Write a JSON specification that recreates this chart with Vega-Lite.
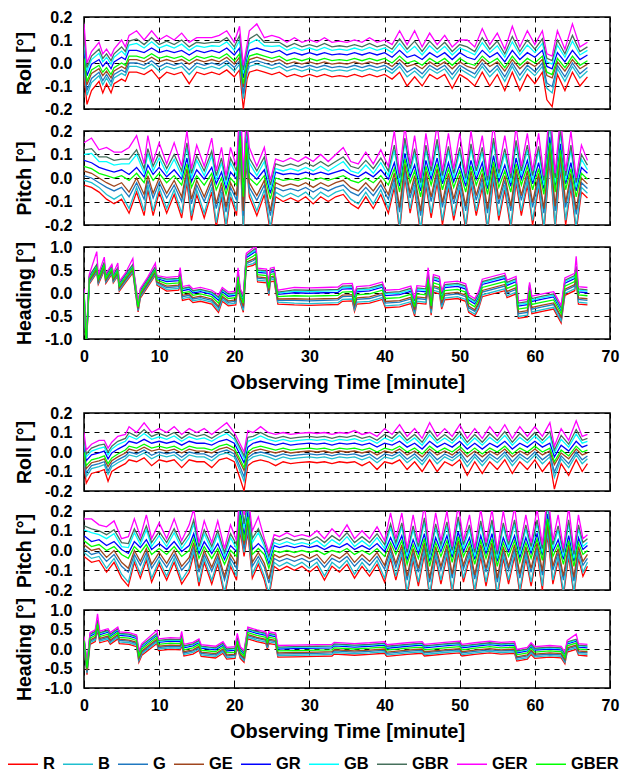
{
"$schema":"https://vega.github.io/schema/vega-lite/v6.json",
"padding":{"left":7,"top":8,"right":4,"bottom":0},
"config":{
"font":"Liberation Sans",
"view":{"stroke":"black","strokeWidth":1.5},
"axis":{"labelFont":"Liberation Sans","labelFontSize":16,"labelFontWeight":"bold","labelColor":"black","titleFont":"Liberation Sans","titleFontSize":19.5,"titleFontWeight":"bold","titleColor":"black","domain":false,"grid":true,"gridColor":"black","gridDash":[5,5],"gridWidth":1,"gridOpacity":1,"tickColor":"black","tickSize":-4,"tickWidth":1,"labelFlush":false,"labelOverlap":false},
"axisY":{"labelPadding":16,"titlePadding":10},
"axisX":{"labelPadding":13,"titlePadding":8,"titleFontSize":20},
"legend":{"labelFont":"Liberation Sans","labelFontSize":16.5,"labelFontWeight":"bold","labelColor":"black","symbolType":"stroke","symbolSize":900,"symbolStrokeWidth":1.5,"labelOffset":4,"columnPadding":5}
},
"datasets":{
"r1":[
{"t":0,"R":-0.05,"B":-0.025,"G":-0.01,"GE":0.005,"GR":0.045,"GB":0.088,"GBR":0.115,"GER":0.17,"GBER":0.02},
{"t":0.4,"R":-0.18,"B":-0.14,"G":-0.12,"GE":-0.095,"GR":-0.055,"GB":-0.035,"GBR":-0.02,"GER":0,"GBER":-0.08},
{"t":1,"R":-0.12,"B":-0.085,"G":-0.067,"GE":-0.045,"GR":-0.005,"GB":0.015,"GBR":0.03,"GER":0.05,"GBER":-0.03},
{"t":2,"R":-0.08,"B":-0.055,"G":-0.04,"GE":-0.025,"GR":0.015,"GB":0.042,"GBR":0.06,"GER":0.09,"GBER":-0.01},
{"t":2.5,"R":-0.13,"B":-0.095,"G":-0.077,"GE":-0.055,"GR":-0.015,"GB":0.005,"GBR":0.02,"GER":0.04,"GBER":-0.04},
{"t":3,"R":-0.09,"B":-0.065,"G":-0.05,"GE":-0.035,"GR":0.005,"GB":0.025,"GBR":0.04,"GER":0.06,"GBER":-0.02},
{"t":3.6,"R":-0.13,"B":-0.1,"G":-0.083,"GE":-0.065,"GR":-0.025,"GB":-0.005,"GBR":0.01,"GER":0.03,"GBER":-0.05},
{"t":4,"R":-0.09,"B":-0.065,"G":-0.05,"GE":-0.035,"GR":0.005,"GB":0.025,"GBR":0.04,"GER":0.06,"GBER":-0.02},
{"t":5,"R":-0.07,"B":-0.045,"G":-0.03,"GE":-0.015,"GR":0.025,"GB":0.052,"GBR":0.07,"GER":0.1,"GBER":0},
{"t":5.5,"R":-0.08,"B":-0.055,"G":-0.04,"GE":-0.025,"GR":0.015,"GB":0.035,"GBR":0.05,"GER":0.07,"GBER":-0.01},
{"t":6,"R":-0.04,"B":-0.015,"G":0,"GE":0.015,"GR":0.055,"GB":0.078,"GBR":0.095,"GER":0.12,"GBER":0.03},
{"t":7,"R":-0.04,"B":-0.015,"G":0,"GE":0.015,"GR":0.055,"GB":0.085,"GBR":0.105,"GER":0.14,"GBER":0.03},
{"t":8,"R":-0.05,"B":-0.025,"G":-0.01,"GE":0.005,"GR":0.045,"GB":0.065,"GBR":0.08,"GER":0.1,"GBER":0.02},
{"t":9,"R":-0.03,"B":-0.005,"G":0.01,"GE":0.025,"GR":0.065,"GB":0.092,"GBR":0.11,"GER":0.14,"GBER":0.04},
{"t":10,"R":-0.07,"B":-0.035,"G":-0.017,"GE":0.005,"GR":0.045,"GB":0.065,"GBR":0.08,"GER":0.1,"GBER":0.02},
{"t":11,"R":-0.04,"B":-0.015,"G":0,"GE":0.015,"GR":0.055,"GB":0.078,"GBR":0.095,"GER":0.12,"GBER":0.03},
{"t":12,"R":-0.05,"B":-0.025,"G":-0.01,"GE":0.005,"GR":0.045,"GB":0.065,"GBR":0.08,"GER":0.1,"GBER":0.02},
{"t":13,"R":-0.04,"B":-0.015,"G":0,"GE":0.015,"GR":0.055,"GB":0.082,"GBR":0.1,"GER":0.13,"GBER":0.03},
{"t":14,"R":-0.09,"B":-0.05,"G":-0.03,"GE":-0.005,"GR":0.035,"GB":0.055,"GBR":0.07,"GER":0.09,"GBER":0.01},
{"t":15,"R":-0.04,"B":-0.015,"G":0,"GE":0.015,"GR":0.055,"GB":0.075,"GBR":0.09,"GER":0.11,"GBER":0.03},
{"t":16,"R":-0.05,"B":-0.025,"G":-0.01,"GE":0.005,"GR":0.045,"GB":0.068,"GBR":0.085,"GER":0.11,"GBER":0.02},
{"t":17,"R":-0.04,"B":-0.015,"G":0,"GE":0.015,"GR":0.055,"GB":0.075,"GBR":0.09,"GER":0.11,"GBER":0.03},
{"t":18,"R":-0.05,"B":-0.025,"G":-0.01,"GE":0.005,"GR":0.045,"GB":0.072,"GBR":0.09,"GER":0.12,"GBER":0.02},
{"t":19,"R":-0.03,"B":-0.005,"G":0.01,"GE":0.025,"GR":0.065,"GB":0.092,"GBR":0.11,"GER":0.14,"GBER":0.04},
{"t":20,"R":-0.06,"B":-0.035,"G":-0.02,"GE":-0.005,"GR":0.035,"GB":0.055,"GBR":0.07,"GER":0.09,"GBER":0.01},
{"t":20.7,"R":-0.03,"B":-0.005,"G":0.01,"GE":0.025,"GR":0.065,"GB":0.098,"GBR":0.12,"GER":0.16,"GBER":0.04},
{"t":21.2,"R":-0.2,"B":-0.155,"G":-0.133,"GE":-0.105,"GR":-0.065,"GB":-0.045,"GBR":-0.03,"GER":-0.01,"GBER":-0.09},
{"t":21.7,"R":-0.07,"B":-0.045,"G":-0.03,"GE":-0.015,"GR":0.025,"GB":0.045,"GBR":0.06,"GER":0.08,"GBER":0},
{"t":22,"R":-0.04,"B":-0.015,"G":0,"GE":0.015,"GR":0.055,"GB":0.085,"GBR":0.105,"GER":0.14,"GBER":0.03},
{"t":23,"R":-0.03,"B":-0.005,"G":0.01,"GE":0.025,"GR":0.065,"GB":0.102,"GBR":0.125,"GER":0.17,"GBER":0.04},
{"t":24,"R":-0.04,"B":-0.015,"G":0,"GE":0.015,"GR":0.055,"GB":0.075,"GBR":0.09,"GER":0.11,"GBER":0.03},
{"t":25,"R":-0.05,"B":-0.025,"G":-0.01,"GE":0.005,"GR":0.045,"GB":0.072,"GBR":0.09,"GER":0.12,"GBER":0.02},
{"t":26,"R":-0.04,"B":-0.015,"G":0,"GE":0.015,"GR":0.055,"GB":0.075,"GBR":0.09,"GER":0.11,"GBER":0.03},
{"t":27,"R":-0.06,"B":-0.035,"G":-0.02,"GE":-0.005,"GR":0.035,"GB":0.055,"GBR":0.07,"GER":0.09,"GBER":0.01},
{"t":28,"R":-0.05,"B":-0.025,"G":-0.01,"GE":0.005,"GR":0.045,"GB":0.068,"GBR":0.085,"GER":0.11,"GBER":0.02},
{"t":29,"R":-0.06,"B":-0.035,"G":-0.02,"GE":-0.005,"GR":0.035,"GB":0.055,"GBR":0.07,"GER":0.09,"GBER":0.01},
{"t":30,"R":-0.05,"B":-0.025,"G":-0.01,"GE":0.005,"GR":0.045,"GB":0.065,"GBR":0.08,"GER":0.1,"GBER":0.02},
{"t":31,"R":-0.06,"B":-0.035,"G":-0.02,"GE":-0.005,"GR":0.035,"GB":0.055,"GBR":0.07,"GER":0.09,"GBER":0.01},
{"t":32,"R":-0.05,"B":-0.025,"G":-0.01,"GE":0.005,"GR":0.045,"GB":0.068,"GBR":0.085,"GER":0.11,"GBER":0.02},
{"t":33,"R":-0.06,"B":-0.035,"G":-0.02,"GE":-0.005,"GR":0.035,"GB":0.055,"GBR":0.07,"GER":0.09,"GBER":0.01},
{"t":34,"R":-0.055,"B":-0.03,"G":-0.015,"GE":0,"GR":0.04,"GB":0.06,"GBR":0.075,"GER":0.095,"GBER":0.015},
{"t":35,"R":-0.06,"B":-0.035,"G":-0.02,"GE":-0.005,"GR":0.035,"GB":0.055,"GBR":0.07,"GER":0.09,"GBER":0.01},
{"t":36,"R":-0.05,"B":-0.025,"G":-0.01,"GE":0.005,"GR":0.045,"GB":0.065,"GBR":0.08,"GER":0.1,"GBER":0.02},
{"t":37,"R":-0.06,"B":-0.035,"G":-0.02,"GE":-0.005,"GR":0.035,"GB":0.055,"GBR":0.07,"GER":0.09,"GBER":0.01},
{"t":38,"R":-0.05,"B":-0.025,"G":-0.01,"GE":0.005,"GR":0.045,"GB":0.068,"GBR":0.085,"GER":0.11,"GBER":0.02},
{"t":39,"R":-0.06,"B":-0.035,"G":-0.02,"GE":-0.005,"GR":0.035,"GB":0.055,"GBR":0.07,"GER":0.09,"GBER":0.01},
{"t":40,"R":-0.05,"B":-0.025,"G":-0.01,"GE":0.005,"GR":0.045,"GB":0.065,"GBR":0.08,"GER":0.1,"GBER":0.02},
{"t":41,"R":-0.07,"B":-0.045,"G":-0.03,"GE":-0.015,"GR":0.025,"GB":0.045,"GBR":0.06,"GER":0.08,"GBER":0},
{"t":42,"R":-0.04,"B":-0.015,"G":0,"GE":0.015,"GR":0.055,"GB":0.085,"GBR":0.105,"GER":0.14,"GBER":0.03},
{"t":43,"R":-0.1,"B":-0.06,"G":-0.04,"GE":-0.015,"GR":0.025,"GB":0.045,"GBR":0.06,"GER":0.08,"GBER":0},
{"t":44,"R":-0.06,"B":-0.035,"G":-0.02,"GE":-0.005,"GR":0.035,"GB":0.072,"GBR":0.095,"GER":0.14,"GBER":0.01},
{"t":45,"R":-0.1,"B":-0.065,"G":-0.047,"GE":-0.025,"GR":0.015,"GB":0.035,"GBR":0.05,"GER":0.07,"GBER":-0.01},
{"t":46,"R":-0.05,"B":-0.025,"G":-0.01,"GE":0.005,"GR":0.045,"GB":0.075,"GBR":0.095,"GER":0.13,"GBER":0.02},
{"t":47,"R":-0.07,"B":-0.045,"G":-0.03,"GE":-0.015,"GR":0.025,"GB":0.045,"GBR":0.06,"GER":0.08,"GBER":0},
{"t":48,"R":-0.05,"B":-0.025,"G":-0.01,"GE":0.005,"GR":0.045,"GB":0.072,"GBR":0.09,"GER":0.12,"GBER":0.02},
{"t":49,"R":-0.11,"B":-0.07,"G":-0.05,"GE":-0.025,"GR":0.015,"GB":0.035,"GBR":0.05,"GER":0.07,"GBER":-0.01},
{"t":50,"R":-0.05,"B":-0.025,"G":-0.01,"GE":0.005,"GR":0.045,"GB":0.065,"GBR":0.08,"GER":0.1,"GBER":0.02},
{"t":51,"R":-0.07,"B":-0.045,"G":-0.03,"GE":-0.015,"GR":0.025,"GB":0.052,"GBR":0.07,"GER":0.1,"GBER":0},
{"t":52,"R":-0.1,"B":-0.065,"G":-0.047,"GE":-0.025,"GR":0.015,"GB":0.035,"GBR":0.05,"GER":0.07,"GBER":-0.01},
{"t":53,"R":-0.04,"B":-0.015,"G":0,"GE":0.015,"GR":0.055,"GB":0.088,"GBR":0.11,"GER":0.15,"GBER":0.03},
{"t":54,"R":-0.1,"B":-0.06,"G":-0.04,"GE":-0.015,"GR":0.025,"GB":0.045,"GBR":0.06,"GER":0.08,"GBER":0},
{"t":55,"R":-0.05,"B":-0.025,"G":-0.01,"GE":0.005,"GR":0.045,"GB":0.075,"GBR":0.095,"GER":0.13,"GBER":0.02},
{"t":56,"R":-0.12,"B":-0.08,"G":-0.06,"GE":-0.035,"GR":0.005,"GB":0.025,"GBR":0.04,"GER":0.06,"GBER":-0.02},
{"t":57,"R":-0.04,"B":-0.015,"G":0,"GE":0.015,"GR":0.055,"GB":0.092,"GBR":0.115,"GER":0.16,"GBER":0.03},
{"t":58,"R":-0.12,"B":-0.075,"G":-0.053,"GE":-0.025,"GR":0.015,"GB":0.035,"GBR":0.05,"GER":0.07,"GBER":-0.01},
{"t":59,"R":-0.05,"B":-0.025,"G":-0.01,"GE":0.005,"GR":0.045,"GB":0.078,"GBR":0.1,"GER":0.14,"GBER":0.02},
{"t":60,"R":-0.09,"B":-0.055,"G":-0.037,"GE":-0.015,"GR":0.025,"GB":0.045,"GBR":0.06,"GER":0.08,"GBER":0},
{"t":61,"R":-0.04,"B":-0.015,"G":0,"GE":0.015,"GR":0.055,"GB":0.085,"GBR":0.105,"GER":0.14,"GBER":0.03},
{"t":61.6,"R":-0.16,"B":-0.11,"G":-0.087,"GE":-0.055,"GR":-0.015,"GB":0.005,"GBR":0.02,"GER":0.04,"GBER":-0.04},
{"t":62.3,"R":-0.19,"B":-0.13,"G":-0.103,"GE":-0.065,"GR":-0.025,"GB":-0.005,"GBR":0.01,"GER":0.03,"GBER":-0.05},
{"t":63,"R":-0.05,"B":-0.025,"G":-0.01,"GE":0.005,"GR":0.045,"GB":0.078,"GBR":0.1,"GER":0.14,"GBER":0.02},
{"t":64,"R":-0.12,"B":-0.08,"G":-0.06,"GE":-0.035,"GR":0.005,"GB":0.025,"GBR":0.04,"GER":0.06,"GBER":-0.02},
{"t":65,"R":-0.04,"B":-0.015,"G":0,"GE":0.015,"GR":0.055,"GB":0.095,"GBR":0.12,"GER":0.17,"GBER":0.03},
{"t":66,"R":-0.1,"B":-0.065,"G":-0.047,"GE":-0.025,"GR":0.015,"GB":0.035,"GBR":0.05,"GER":0.07,"GBER":-0.01},
{"t":67,"R":-0.06,"B":-0.035,"G":-0.02,"GE":-0.005,"GR":0.035,"GB":0.055,"GBR":0.07,"GER":0.09,"GBER":0.01}
],
"p1":[
{"t":0,"R":-0.03,"B":-0.01,"G":0.01,"GE":0.03,"GR":0.075,"GB":0.1,"GBR":0.12,"GER":0.15,"GBER":0.05},
{"t":1,"R":-0.04,"B":-0.02,"G":0,"GE":0.02,"GR":0.065,"GB":0.105,"GBR":0.125,"GER":0.17,"GBER":0.04},
{"t":2,"R":-0.06,"B":-0.04,"G":-0.02,"GE":0,"GR":0.045,"GB":0.07,"GBR":0.09,"GER":0.12,"GBER":0.02},
{"t":3,"R":-0.09,"B":-0.07,"G":-0.04,"GE":-0.02,"GR":0.035,"GB":0.07,"GBR":0.09,"GER":0.13,"GBER":0.01},
{"t":4,"R":-0.11,"B":-0.09,"G":-0.055,"GE":-0.035,"GR":0.025,"GB":0.055,"GBR":0.075,"GER":0.11,"GBER":0},
{"t":5,"R":-0.09,"B":-0.07,"G":-0.04,"GE":-0.02,"GR":0.035,"GB":0.06,"GBR":0.08,"GER":0.11,"GBER":0.01},
{"t":6,"R":-0.15,"B":-0.13,"G":-0.08,"GE":-0.06,"GR":0.015,"GB":0.06,"GBR":0.08,"GER":0.13,"GBER":-0.01},
{"t":7,"R":-0.06,"B":-0.04,"G":-0.02,"GE":0,"GR":0.045,"GB":0.1,"GBR":0.12,"GER":0.18,"GBER":0.02},
{"t":8,"R":-0.16,"B":-0.14,"G":-0.09,"GE":-0.07,"GR":0.005,"GB":0.02,"GBR":0.04,"GER":0.06,"GBER":-0.02},
{"t":8.5,"R":-0.05,"B":-0.03,"G":-0.01,"GE":0.01,"GR":0.055,"GB":0.105,"GBR":0.125,"GER":0.18,"GBER":0.03},
{"t":9.2,"R":-0.16,"B":-0.14,"G":-0.085,"GE":-0.065,"GR":0.015,"GB":0.03,"GBR":0.05,"GER":0.07,"GBER":-0.01},
{"t":10,"R":-0.06,"B":-0.04,"G":-0.02,"GE":0,"GR":0.045,"GB":0.085,"GBR":0.105,"GER":0.15,"GBER":0.02},
{"t":11,"R":-0.15,"B":-0.13,"G":-0.085,"GE":-0.065,"GR":0.005,"GB":0.02,"GBR":0.04,"GER":0.06,"GBER":-0.02},
{"t":12,"R":-0.07,"B":-0.05,"G":-0.03,"GE":-0.01,"GR":0.035,"GB":0.08,"GBR":0.1,"GER":0.15,"GBER":0.01},
{"t":13,"R":-0.17,"B":-0.15,"G":-0.1,"GE":-0.08,"GR":-0.005,"GB":0.01,"GBR":0.03,"GER":0.05,"GBER":-0.03},
{"t":13.7,"R":-0.02,"B":0,"G":0.02,"GE":0.04,"GR":0.085,"GB":0.13,"GBR":0.15,"GER":0.2,"GBER":0.06},
{"t":14.3,"R":-0.18,"B":-0.16,"G":-0.11,"GE":-0.09,"GR":-0.015,"GB":0,"GBR":0.02,"GER":0.04,"GBER":-0.04},
{"t":15,"R":-0.07,"B":-0.05,"G":-0.03,"GE":-0.01,"GR":0.035,"GB":0.075,"GBR":0.095,"GER":0.14,"GBER":0.01},
{"t":16,"R":-0.17,"B":-0.15,"G":-0.1,"GE":-0.08,"GR":-0.005,"GB":0.01,"GBR":0.03,"GER":0.05,"GBER":-0.03},
{"t":17,"R":-0.06,"B":-0.04,"G":-0.02,"GE":0,"GR":0.045,"GB":0.095,"GBR":0.115,"GER":0.17,"GBER":0.02},
{"t":17.6,"R":-0.21,"B":-0.19,"G":-0.13,"GE":-0.11,"GR":-0.025,"GB":-0.01,"GBR":0.01,"GER":0.03,"GBER":-0.05},
{"t":18.3,"R":-0.08,"B":-0.06,"G":-0.04,"GE":-0.02,"GR":0.025,"GB":0.065,"GBR":0.085,"GER":0.13,"GBER":0},
{"t":18.9,"R":-0.22,"B":-0.2,"G":-0.145,"GE":-0.125,"GR":-0.045,"GB":-0.03,"GBR":-0.01,"GER":0.01,"GBER":-0.07},
{"t":19.5,"R":-0.08,"B":-0.06,"G":-0.04,"GE":-0.02,"GR":0.025,"GB":0.065,"GBR":0.085,"GER":0.13,"GBER":0},
{"t":20.3,"R":-0.16,"B":-0.14,"G":-0.095,"GE":-0.075,"GR":-0.005,"GB":0.01,"GBR":0.03,"GER":0.05,"GBER":-0.03},
{"t":20.8,"R":0.1,"B":0.12,"G":0.14,"GE":0.16,"GR":0.205,"GB":0.27,"GBR":0.29,"GER":0.36,"GBER":0.18},
{"t":21.2,"R":-0.24,"B":-0.22,"G":-0.16,"GE":-0.14,"GR":-0.055,"GB":-0.04,"GBR":-0.02,"GER":0,"GBER":-0.08},
{"t":21.6,"R":0.07,"B":0.09,"G":0.11,"GE":0.13,"GR":0.175,"GB":0.215,"GBR":0.235,"GER":0.28,"GBER":0.15},
{"t":22,"R":-0.08,"B":-0.06,"G":-0.04,"GE":-0.02,"GR":0.025,"GB":0.065,"GBR":0.085,"GER":0.13,"GBER":0},
{"t":23,"R":-0.16,"B":-0.14,"G":-0.095,"GE":-0.075,"GR":-0.005,"GB":0.01,"GBR":0.03,"GER":0.05,"GBER":-0.03},
{"t":24,"R":-0.07,"B":-0.05,"G":-0.03,"GE":-0.01,"GR":0.035,"GB":0.07,"GBR":0.09,"GER":0.13,"GBER":0.01},
{"t":24.8,"R":-0.23,"B":-0.21,"G":-0.16,"GE":-0.14,"GR":-0.065,"GB":-0.05,"GBR":-0.03,"GER":-0.01,"GBER":-0.09},
{"t":25.5,"R":-0.08,"B":-0.06,"G":-0.04,"GE":-0.02,"GR":0.025,"GB":0.04,"GBR":0.06,"GER":0.08,"GBER":0},
{"t":26.5,"R":-0.1,"B":-0.08,"G":-0.055,"GE":-0.035,"GR":0.015,"GB":0.03,"GBR":0.05,"GER":0.07,"GBER":-0.01},
{"t":27.5,"R":-0.085,"B":-0.065,"G":-0.045,"GE":-0.025,"GR":0.02,"GB":0.04,"GBR":0.06,"GER":0.085,"GBER":-0.005},
{"t":28.5,"R":-0.1,"B":-0.08,"G":-0.055,"GE":-0.035,"GR":0.015,"GB":0.03,"GBR":0.05,"GER":0.07,"GBER":-0.01},
{"t":29.5,"R":-0.08,"B":-0.06,"G":-0.04,"GE":-0.02,"GR":0.025,"GB":0.045,"GBR":0.065,"GER":0.09,"GBER":0},
{"t":30.5,"R":-0.11,"B":-0.09,"G":-0.06,"GE":-0.04,"GR":0.015,"GB":0.03,"GBR":0.05,"GER":0.07,"GBER":-0.01},
{"t":31.5,"R":-0.08,"B":-0.06,"G":-0.04,"GE":-0.02,"GR":0.025,"GB":0.05,"GBR":0.07,"GER":0.1,"GBER":0},
{"t":32.5,"R":-0.1,"B":-0.08,"G":-0.055,"GE":-0.035,"GR":0.015,"GB":0.03,"GBR":0.05,"GER":0.07,"GBER":-0.01},
{"t":33.5,"R":-0.08,"B":-0.06,"G":-0.04,"GE":-0.02,"GR":0.025,"GB":0.05,"GBR":0.07,"GER":0.1,"GBER":0},
{"t":34.5,"R":-0.07,"B":-0.05,"G":-0.03,"GE":-0.01,"GR":0.035,"GB":0.07,"GBR":0.09,"GER":0.13,"GBER":0.01},
{"t":35.5,"R":-0.11,"B":-0.09,"G":-0.06,"GE":-0.04,"GR":0.015,"GB":0.03,"GBR":0.05,"GER":0.07,"GBER":-0.01},
{"t":36.5,"R":-0.13,"B":-0.11,"G":-0.075,"GE":-0.055,"GR":0.005,"GB":0.02,"GBR":0.04,"GER":0.06,"GBER":-0.02},
{"t":37.5,"R":-0.08,"B":-0.06,"G":-0.04,"GE":-0.02,"GR":0.025,"GB":0.055,"GBR":0.075,"GER":0.11,"GBER":0},
{"t":38.5,"R":-0.13,"B":-0.11,"G":-0.075,"GE":-0.055,"GR":0.005,"GB":0.02,"GBR":0.04,"GER":0.06,"GBER":-0.02},
{"t":39.5,"R":-0.07,"B":-0.05,"G":-0.03,"GE":-0.01,"GR":0.035,"GB":0.065,"GBR":0.085,"GER":0.12,"GBER":0.01},
{"t":40.5,"R":-0.15,"B":-0.13,"G":-0.09,"GE":-0.07,"GR":-0.005,"GB":0.01,"GBR":0.03,"GER":0.05,"GBER":-0.03},
{"t":41.3,"R":-0.04,"B":-0.02,"G":0,"GE":0.02,"GR":0.065,"GB":0.12,"GBR":0.14,"GER":0.2,"GBER":0.04},
{"t":42,"R":-0.23,"B":-0.21,"G":-0.145,"GE":-0.125,"GR":-0.035,"GB":-0.02,"GBR":0,"GER":0.02,"GBER":-0.06},
{"t":42.7,"R":0,"B":0.02,"G":0.04,"GE":0.06,"GR":0.105,"GB":0.15,"GBR":0.17,"GER":0.22,"GBER":0.08},
{"t":43.4,"R":-0.15,"B":-0.13,"G":-0.085,"GE":-0.065,"GR":0.005,"GB":0.02,"GBR":0.04,"GER":0.06,"GBER":-0.02},
{"t":44,"R":-0.05,"B":-0.03,"G":-0.01,"GE":0.01,"GR":0.055,"GB":0.105,"GBR":0.125,"GER":0.18,"GBER":0.03},
{"t":44.8,"R":-0.24,"B":-0.22,"G":-0.16,"GE":-0.14,"GR":-0.055,"GB":-0.04,"GBR":-0.02,"GER":0,"GBER":-0.08},
{"t":45.5,"R":-0.03,"B":-0.01,"G":0.01,"GE":0.03,"GR":0.075,"GB":0.12,"GBR":0.14,"GER":0.19,"GBER":0.05},
{"t":46.2,"R":-0.17,"B":-0.15,"G":-0.1,"GE":-0.08,"GR":-0.005,"GB":0.01,"GBR":0.03,"GER":0.05,"GBER":-0.03},
{"t":47,"R":-0.02,"B":0,"G":0.02,"GE":0.04,"GR":0.085,"GB":0.145,"GBR":0.165,"GER":0.23,"GBER":0.06},
{"t":47.7,"R":-0.2,"B":-0.18,"G":-0.125,"GE":-0.105,"GR":-0.025,"GB":-0.01,"GBR":0.01,"GER":0.03,"GBER":-0.05},
{"t":48.5,"R":-0.04,"B":-0.02,"G":0,"GE":0.02,"GR":0.065,"GB":0.115,"GBR":0.135,"GER":0.19,"GBER":0.04},
{"t":49.2,"R":-0.18,"B":-0.16,"G":-0.11,"GE":-0.09,"GR":-0.015,"GB":0,"GBR":0.02,"GER":0.04,"GBER":-0.04},
{"t":50,"R":-0.05,"B":-0.03,"G":-0.01,"GE":0.01,"GR":0.055,"GB":0.11,"GBR":0.13,"GER":0.19,"GBER":0.03},
{"t":50.8,"R":-0.22,"B":-0.2,"G":-0.14,"GE":-0.12,"GR":-0.035,"GB":-0.02,"GBR":0,"GER":0.02,"GBER":-0.06},
{"t":51.5,"R":-0.03,"B":-0.01,"G":0.01,"GE":0.03,"GR":0.075,"GB":0.125,"GBR":0.145,"GER":0.2,"GBER":0.05},
{"t":52.2,"R":-0.16,"B":-0.14,"G":-0.095,"GE":-0.075,"GR":-0.005,"GB":0.01,"GBR":0.03,"GER":0.05,"GBER":-0.03},
{"t":53,"R":-0.04,"B":-0.02,"G":0,"GE":0.02,"GR":0.065,"GB":0.11,"GBR":0.13,"GER":0.18,"GBER":0.04},
{"t":53.7,"R":-0.23,"B":-0.21,"G":-0.15,"GE":-0.13,"GR":-0.045,"GB":-0.03,"GBR":-0.01,"GER":0.01,"GBER":-0.07},
{"t":54.5,"R":-0.01,"B":0.01,"G":0.03,"GE":0.05,"GR":0.095,"GB":0.15,"GBR":0.17,"GER":0.23,"GBER":0.07},
{"t":55.2,"R":-0.18,"B":-0.16,"G":-0.11,"GE":-0.09,"GR":-0.015,"GB":0,"GBR":0.02,"GER":0.04,"GBER":-0.04},
{"t":56,"R":-0.05,"B":-0.03,"G":-0.01,"GE":0.01,"GR":0.055,"GB":0.105,"GBR":0.125,"GER":0.18,"GBER":0.03},
{"t":56.8,"R":-0.22,"B":-0.2,"G":-0.14,"GE":-0.12,"GR":-0.035,"GB":-0.02,"GBR":0,"GER":0.02,"GBER":-0.06},
{"t":57.5,"R":-0.02,"B":0,"G":0.02,"GE":0.04,"GR":0.085,"GB":0.14,"GBR":0.16,"GER":0.22,"GBER":0.06},
{"t":58.2,"R":-0.16,"B":-0.14,"G":-0.095,"GE":-0.075,"GR":-0.005,"GB":0.01,"GBR":0.03,"GER":0.05,"GBER":-0.03},
{"t":59,"R":-0.03,"B":-0.01,"G":0.01,"GE":0.03,"GR":0.075,"GB":0.12,"GBR":0.14,"GER":0.19,"GBER":0.05},
{"t":59.7,"R":-0.2,"B":-0.18,"G":-0.125,"GE":-0.105,"GR":-0.025,"GB":-0.01,"GBR":0.01,"GER":0.03,"GBER":-0.05},
{"t":60.5,"R":-0.04,"B":-0.02,"G":0,"GE":0.02,"GR":0.065,"GB":0.115,"GBR":0.135,"GER":0.19,"GBER":0.04},
{"t":61.2,"R":-0.23,"B":-0.21,"G":-0.15,"GE":-0.13,"GR":-0.045,"GB":-0.03,"GBR":-0.01,"GER":0.01,"GBER":-0.07},
{"t":62,"R":0.07,"B":0.09,"G":0.11,"GE":0.13,"GR":0.175,"GB":0.23,"GBR":0.25,"GER":0.31,"GBER":0.15},
{"t":62.7,"R":-0.22,"B":-0.2,"G":-0.14,"GE":-0.12,"GR":-0.035,"GB":-0.02,"GBR":0,"GER":0.02,"GBER":-0.06},
{"t":63.4,"R":0.04,"B":0.06,"G":0.08,"GE":0.1,"GR":0.145,"GB":0.19,"GBR":0.21,"GER":0.26,"GBER":0.12},
{"t":64.1,"R":-0.2,"B":-0.18,"G":-0.125,"GE":-0.105,"GR":-0.025,"GB":-0.01,"GBR":0.01,"GER":0.03,"GBER":-0.05},
{"t":64.8,"R":-0.04,"B":-0.02,"G":0,"GE":0.02,"GR":0.065,"GB":0.12,"GBR":0.14,"GER":0.2,"GBER":0.04},
{"t":65.5,"R":-0.23,"B":-0.21,"G":-0.155,"GE":-0.135,"GR":-0.055,"GB":-0.04,"GBR":-0.02,"GER":0,"GBER":-0.08},
{"t":66.2,"R":-0.06,"B":-0.04,"G":-0.02,"GE":0,"GR":0.045,"GB":0.08,"GBR":0.1,"GER":0.14,"GBER":0.02},
{"t":67,"R":-0.085,"B":-0.065,"G":-0.045,"GE":-0.025,"GR":0.02,"GB":0.035,"GBR":0.055,"GER":0.075,"GBER":-0.005}
],
"h1":[
{"t":0,"R":-0.11,"B":-0.085,"G":-0.055,"GE":-0.035,"GR":0.035,"GB":0.055,"GBR":0.07,"GER":0.1,"GBER":0},
{"t":0.3,"R":-1.26,"B":-1.235,"G":-1.205,"GE":-1.185,"GR":-1.115,"GB":-1.095,"GBR":-1.08,"GER":-1.05,"GBER":-1.15},
{"t":0.7,"R":0.19,"B":0.215,"G":0.245,"GE":0.265,"GR":0.335,"GB":0.355,"GBR":0.37,"GER":0.4,"GBER":0.3},
{"t":1.7,"R":0.44,"B":0.465,"G":0.495,"GE":0.515,"GR":0.585,"GB":0.605,"GBR":0.62,"GER":0.9,"GBER":0.55},
{"t":1.9,"R":0.19,"B":0.215,"G":0.245,"GE":0.265,"GR":0.335,"GB":0.355,"GBR":0.37,"GER":0.4,"GBER":0.3},
{"t":2.7,"R":0.49,"B":0.515,"G":0.545,"GE":0.565,"GR":0.635,"GB":0.655,"GBR":0.67,"GER":0.78,"GBER":0.6},
{"t":2.9,"R":0.21,"B":0.235,"G":0.265,"GE":0.285,"GR":0.355,"GB":0.375,"GBR":0.39,"GER":0.42,"GBER":0.32},
{"t":3.7,"R":0.41,"B":0.435,"G":0.465,"GE":0.485,"GR":0.555,"GB":0.575,"GBR":0.59,"GER":0.62,"GBER":0.52},
{"t":3.9,"R":0.22,"B":0.245,"G":0.275,"GE":0.295,"GR":0.365,"GB":0.385,"GBR":0.4,"GER":0.43,"GBER":0.33},
{"t":4.5,"R":0.37,"B":0.395,"G":0.425,"GE":0.445,"GR":0.515,"GB":0.535,"GBR":0.55,"GER":0.65,"GBER":0.48},
{"t":4.7,"R":0.04,"B":0.065,"G":0.095,"GE":0.115,"GR":0.185,"GB":0.205,"GBR":0.22,"GER":0.25,"GBER":0.15},
{"t":5.5,"R":0.22,"B":0.245,"G":0.275,"GE":0.295,"GR":0.365,"GB":0.385,"GBR":0.4,"GER":0.43,"GBER":0.33},
{"t":6.5,"R":0.44,"B":0.465,"G":0.495,"GE":0.515,"GR":0.585,"GB":0.605,"GBR":0.62,"GER":0.75,"GBER":0.55},
{"t":6.7,"R":0.19,"B":0.215,"G":0.245,"GE":0.265,"GR":0.335,"GB":0.355,"GBR":0.37,"GER":0.4,"GBER":0.3},
{"t":7.2,"R":-0.41,"B":-0.385,"G":-0.355,"GE":-0.335,"GR":-0.265,"GB":-0.245,"GBR":-0.23,"GER":-0.2,"GBER":-0.3},
{"t":7.5,"R":-0.11,"B":-0.085,"G":-0.055,"GE":-0.035,"GR":0.035,"GB":0.055,"GBR":0.07,"GER":0.1,"GBER":0},
{"t":8.5,"R":0.14,"B":0.165,"G":0.195,"GE":0.215,"GR":0.285,"GB":0.305,"GBR":0.32,"GER":0.35,"GBER":0.25},
{"t":9.5,"R":0.39,"B":0.415,"G":0.445,"GE":0.465,"GR":0.535,"GB":0.555,"GBR":0.57,"GER":0.65,"GBER":0.5},
{"t":9.7,"R":0.17,"B":0.195,"G":0.225,"GE":0.245,"GR":0.315,"GB":0.335,"GBR":0.35,"GER":0.38,"GBER":0.28},
{"t":11,"R":0.04,"B":0.08,"G":0.12,"GE":0.15,"GR":0.25,"GB":0.28,"GBR":0.3,"GER":0.34,"GBER":0.2},
{"t":12.6,"R":0.06,"B":0.1,"G":0.14,"GE":0.17,"GR":0.27,"GB":0.3,"GBR":0.32,"GER":0.36,"GBER":0.22},
{"t":12.8,"R":0.19,"B":0.23,"G":0.27,"GE":0.3,"GR":0.4,"GB":0.43,"GBR":0.45,"GER":0.55,"GBER":0.35},
{"t":13.1,"R":-0.16,"B":-0.12,"G":-0.08,"GE":-0.05,"GR":0.05,"GB":0.08,"GBR":0.1,"GER":0.14,"GBER":0},
{"t":14,"R":-0.13,"B":-0.09,"G":-0.05,"GE":-0.02,"GR":0.08,"GB":0.11,"GBR":0.13,"GER":0.17,"GBER":0.03},
{"t":14.5,"R":-0.21,"B":-0.17,"G":-0.13,"GE":-0.1,"GR":0,"GB":0.03,"GBR":0.05,"GER":0.09,"GBER":-0.05},
{"t":15.5,"R":-0.18,"B":-0.14,"G":-0.1,"GE":-0.07,"GR":0.03,"GB":0.06,"GBR":0.08,"GER":0.12,"GBER":-0.02},
{"t":17,"R":-0.24,"B":-0.2,"G":-0.16,"GE":-0.13,"GR":-0.03,"GB":0,"GBR":0.02,"GER":0.06,"GBER":-0.08},
{"t":17.9,"R":-0.42,"B":-0.38,"G":-0.32,"GE":-0.285,"GR":-0.155,"GB":-0.12,"GBR":-0.09,"GER":-0.04,"GBER":-0.22},
{"t":18.4,"R":-0.18,"B":-0.14,"G":-0.1,"GE":-0.07,"GR":0.03,"GB":0.06,"GBR":0.08,"GER":0.12,"GBER":-0.02},
{"t":19.2,"R":-0.28,"B":-0.24,"G":-0.2,"GE":-0.17,"GR":-0.07,"GB":-0.04,"GBR":-0.02,"GER":0.02,"GBER":-0.12},
{"t":20.2,"R":-0.26,"B":-0.22,"G":-0.18,"GE":-0.15,"GR":-0.05,"GB":-0.02,"GBR":0,"GER":0.04,"GBER":-0.1},
{"t":20.5,"R":0.19,"B":0.23,"G":0.27,"GE":0.3,"GR":0.4,"GB":0.43,"GBR":0.45,"GER":0.55,"GBER":0.35},
{"t":20.8,"R":-0.21,"B":-0.17,"G":-0.13,"GE":-0.1,"GR":0,"GB":0.03,"GBR":0.05,"GER":0.09,"GBER":-0.05},
{"t":21.2,"R":-0.42,"B":-0.38,"G":-0.32,"GE":-0.285,"GR":-0.155,"GB":-0.12,"GBR":-0.09,"GER":-0.04,"GBER":-0.22},
{"t":21.6,"R":0.56,"B":0.6,"G":0.64,"GE":0.67,"GR":0.77,"GB":0.8,"GBR":0.82,"GER":0.86,"GBER":0.72},
{"t":22.5,"R":0.6,"B":0.64,"G":0.7,"GE":0.735,"GR":0.865,"GB":0.9,"GBR":0.93,"GER":0.98,"GBER":0.8},
{"t":22.9,"R":0.65,"B":0.69,"G":0.75,"GE":0.785,"GR":0.915,"GB":0.95,"GBR":0.98,"GER":1.02,"GBER":0.85},
{"t":23.1,"R":0.24,"B":0.28,"G":0.32,"GE":0.35,"GR":0.45,"GB":0.48,"GBR":0.5,"GER":0.54,"GBER":0.4},
{"t":24.3,"R":0.22,"B":0.26,"G":0.3,"GE":0.33,"GR":0.43,"GB":0.46,"GBR":0.48,"GER":0.52,"GBER":0.38},
{"t":24.6,"R":-0.06,"B":-0.02,"G":0.02,"GE":0.05,"GR":0.15,"GB":0.18,"GBR":0.2,"GER":0.24,"GBER":0.1},
{"t":24.8,"R":0.24,"B":0.28,"G":0.32,"GE":0.35,"GR":0.45,"GB":0.48,"GBR":0.5,"GER":0.54,"GBER":0.4},
{"t":25.3,"R":0.26,"B":0.3,"G":0.34,"GE":0.37,"GR":0.47,"GB":0.5,"GBR":0.52,"GER":0.56,"GBER":0.42},
{"t":25.8,"R":-0.24,"B":-0.2,"G":-0.16,"GE":-0.13,"GR":-0.03,"GB":0,"GBR":0.02,"GER":0.06,"GBER":-0.08},
{"t":28,"R":-0.26,"B":-0.22,"G":-0.16,"GE":-0.125,"GR":0.005,"GB":0.04,"GBR":0.07,"GER":0.12,"GBER":-0.06},
{"t":30,"R":-0.27,"B":-0.23,"G":-0.17,"GE":-0.135,"GR":-0.005,"GB":0.03,"GBR":0.06,"GER":0.11,"GBER":-0.07},
{"t":32,"R":-0.26,"B":-0.22,"G":-0.16,"GE":-0.125,"GR":0.005,"GB":0.04,"GBR":0.07,"GER":0.12,"GBER":-0.06},
{"t":33.8,"R":-0.25,"B":-0.21,"G":-0.15,"GE":-0.115,"GR":0.015,"GB":0.05,"GBR":0.08,"GER":0.13,"GBER":-0.05},
{"t":34.4,"R":-0.18,"B":-0.14,"G":-0.08,"GE":-0.045,"GR":0.085,"GB":0.12,"GBR":0.15,"GER":0.2,"GBER":0.02},
{"t":35.7,"R":-0.17,"B":-0.13,"G":-0.07,"GE":-0.035,"GR":0.095,"GB":0.13,"GBR":0.16,"GER":0.21,"GBER":0.03},
{"t":36,"R":-0.4,"B":-0.36,"G":-0.3,"GE":-0.265,"GR":-0.135,"GB":-0.1,"GBR":-0.07,"GER":-0.02,"GBER":-0.2},
{"t":36.3,"R":-0.24,"B":-0.2,"G":-0.14,"GE":-0.105,"GR":0.025,"GB":0.06,"GBR":0.09,"GER":0.14,"GBER":-0.04},
{"t":38,"R":-0.22,"B":-0.18,"G":-0.12,"GE":-0.085,"GR":0.045,"GB":0.08,"GBR":0.11,"GER":0.16,"GBER":-0.02},
{"t":39.7,"R":-0.14,"B":-0.1,"G":-0.04,"GE":-0.005,"GR":0.125,"GB":0.16,"GBR":0.19,"GER":0.24,"GBER":0.06},
{"t":40.1,"R":-0.32,"B":-0.28,"G":-0.22,"GE":-0.185,"GR":-0.055,"GB":-0.02,"GBR":0.01,"GER":0.06,"GBER":-0.12},
{"t":42,"R":-0.3,"B":-0.26,"G":-0.2,"GE":-0.165,"GR":-0.035,"GB":0,"GBR":0.03,"GER":0.08,"GBER":-0.1},
{"t":43.5,"R":-0.23,"B":-0.19,"G":-0.13,"GE":-0.095,"GR":0.035,"GB":0.07,"GBR":0.1,"GER":0.15,"GBER":-0.03},
{"t":44,"R":-0.5,"B":-0.46,"G":-0.4,"GE":-0.365,"GR":-0.235,"GB":-0.2,"GBR":-0.17,"GER":-0.12,"GBER":-0.3},
{"t":44.3,"R":-0.22,"B":-0.18,"G":-0.12,"GE":-0.085,"GR":0.045,"GB":0.08,"GBR":0.11,"GER":0.16,"GBER":-0.02},
{"t":45.5,"R":-0.24,"B":-0.2,"G":-0.14,"GE":-0.105,"GR":0.025,"GB":0.06,"GBR":0.09,"GER":0.14,"GBER":-0.04},
{"t":45.8,"R":0.1,"B":0.14,"G":0.2,"GE":0.235,"GR":0.365,"GB":0.4,"GBR":0.43,"GER":0.55,"GBER":0.3},
{"t":46.2,"R":-0.48,"B":-0.44,"G":-0.38,"GE":-0.345,"GR":-0.215,"GB":-0.18,"GBR":-0.15,"GER":-0.1,"GBER":-0.28},
{"t":46.5,"R":0.02,"B":0.06,"G":0.12,"GE":0.155,"GR":0.285,"GB":0.32,"GBR":0.35,"GER":0.4,"GBER":0.22},
{"t":47.3,"R":-0.02,"B":0.02,"G":0.08,"GE":0.115,"GR":0.245,"GB":0.28,"GBR":0.31,"GER":0.36,"GBER":0.18},
{"t":47.6,"R":-0.35,"B":-0.31,"G":-0.25,"GE":-0.215,"GR":-0.085,"GB":-0.05,"GBR":-0.02,"GER":0.03,"GBER":-0.15},
{"t":48,"R":-0.15,"B":-0.11,"G":-0.05,"GE":-0.015,"GR":0.115,"GB":0.15,"GBR":0.18,"GER":0.23,"GBER":0.05},
{"t":49.7,"R":-0.12,"B":-0.08,"G":-0.02,"GE":0.015,"GR":0.145,"GB":0.18,"GBR":0.21,"GER":0.26,"GBER":0.08},
{"t":50.8,"R":-0.18,"B":-0.14,"G":-0.08,"GE":-0.045,"GR":0.085,"GB":0.12,"GBR":0.15,"GER":0.2,"GBER":0.02},
{"t":51.2,"R":-0.42,"B":-0.38,"G":-0.32,"GE":-0.285,"GR":-0.155,"GB":-0.12,"GBR":-0.09,"GER":-0.04,"GBER":-0.22},
{"t":52,"R":-0.5,"B":-0.46,"G":-0.4,"GE":-0.365,"GR":-0.235,"GB":-0.2,"GBR":-0.17,"GER":-0.12,"GBER":-0.3},
{"t":52.5,"R":-0.35,"B":-0.31,"G":-0.25,"GE":-0.215,"GR":-0.085,"GB":-0.05,"GBR":-0.02,"GER":0.03,"GBER":-0.15},
{"t":53,"R":-0.08,"B":-0.04,"G":0.02,"GE":0.055,"GR":0.185,"GB":0.22,"GBR":0.25,"GER":0.3,"GBER":0.12},
{"t":56,"R":0.05,"B":0.09,"G":0.15,"GE":0.185,"GR":0.315,"GB":0.35,"GBR":0.38,"GER":0.43,"GBER":0.25},
{"t":56.3,"R":-0.1,"B":-0.06,"G":0,"GE":0.035,"GR":0.165,"GB":0.2,"GBR":0.23,"GER":0.28,"GBER":0.1},
{"t":57.5,"R":-0.02,"B":0.02,"G":0.08,"GE":0.115,"GR":0.245,"GB":0.28,"GBR":0.31,"GER":0.36,"GBER":0.18},
{"t":57.8,"R":-0.55,"B":-0.51,"G":-0.45,"GE":-0.415,"GR":-0.285,"GB":-0.25,"GBR":-0.22,"GER":-0.17,"GBER":-0.35},
{"t":59,"R":-0.52,"B":-0.48,"G":-0.42,"GE":-0.385,"GR":-0.255,"GB":-0.22,"GBR":-0.19,"GER":-0.14,"GBER":-0.32},
{"t":59.3,"R":-0.15,"B":-0.11,"G":-0.05,"GE":-0.015,"GR":0.115,"GB":0.15,"GBR":0.18,"GER":0.23,"GBER":0.05},
{"t":59.6,"R":-0.45,"B":-0.41,"G":-0.35,"GE":-0.315,"GR":-0.185,"GB":-0.15,"GBR":-0.12,"GER":-0.07,"GBER":-0.25},
{"t":61,"R":-0.4,"B":-0.36,"G":-0.3,"GE":-0.265,"GR":-0.135,"GB":-0.1,"GBR":-0.07,"GER":-0.02,"GBER":-0.2},
{"t":62.5,"R":-0.35,"B":-0.31,"G":-0.25,"GE":-0.215,"GR":-0.085,"GB":-0.05,"GBR":-0.02,"GER":0.03,"GBER":-0.15},
{"t":63.5,"R":-0.65,"B":-0.61,"G":-0.55,"GE":-0.515,"GR":-0.385,"GB":-0.35,"GBR":-0.32,"GER":-0.27,"GBER":-0.45},
{"t":64,"R":-0.05,"B":-0.01,"G":0.05,"GE":0.085,"GR":0.215,"GB":0.25,"GBR":0.28,"GER":0.33,"GBER":0.15},
{"t":65.3,"R":0.05,"B":0.09,"G":0.15,"GE":0.185,"GR":0.315,"GB":0.35,"GBR":0.38,"GER":0.43,"GBER":0.25},
{"t":65.5,"R":0.25,"B":0.29,"G":0.35,"GE":0.385,"GR":0.515,"GB":0.55,"GBR":0.58,"GER":0.8,"GBER":0.45},
{"t":65.8,"R":-0.24,"B":-0.2,"G":-0.14,"GE":-0.105,"GR":0.025,"GB":0.06,"GBR":0.09,"GER":0.14,"GBER":-0.04},
{"t":67,"R":-0.26,"B":-0.22,"G":-0.16,"GE":-0.125,"GR":0.005,"GB":0.04,"GBR":0.07,"GER":0.12,"GBER":-0.06}
],
"r2":[
{"t":0,"R":-0.07,"B":-0.045,"G":-0.03,"GE":-0.015,"GR":0.025,"GB":0.052,"GBR":0.07,"GER":0.1,"GBER":0},
{"t":0.3,"R":-0.16,"B":-0.125,"G":-0.107,"GE":-0.085,"GR":-0.045,"GB":-0.025,"GBR":-0.01,"GER":0.01,"GBER":-0.07},
{"t":1,"R":-0.11,"B":-0.085,"G":-0.07,"GE":-0.055,"GR":-0.015,"GB":0.005,"GBR":0.02,"GER":0.04,"GBER":-0.04},
{"t":2,"R":-0.1,"B":-0.075,"G":-0.06,"GE":-0.045,"GR":-0.005,"GB":0.018,"GBR":0.035,"GER":0.06,"GBER":-0.03},
{"t":2.7,"R":-0.09,"B":-0.065,"G":-0.05,"GE":-0.035,"GR":0.005,"GB":0.025,"GBR":0.04,"GER":0.06,"GBER":-0.02},
{"t":3.2,"R":-0.15,"B":-0.115,"G":-0.097,"GE":-0.075,"GR":-0.035,"GB":-0.015,"GBR":0,"GER":0.02,"GBER":-0.06},
{"t":3.7,"R":-0.1,"B":-0.075,"G":-0.06,"GE":-0.045,"GR":-0.005,"GB":0.015,"GBR":0.03,"GER":0.05,"GBER":-0.03},
{"t":4.5,"R":-0.08,"B":-0.055,"G":-0.04,"GE":-0.025,"GR":0.015,"GB":0.038,"GBR":0.055,"GER":0.08,"GBER":-0.01},
{"t":5.5,"R":-0.06,"B":-0.035,"G":-0.02,"GE":-0.005,"GR":0.035,"GB":0.055,"GBR":0.07,"GER":0.09,"GBER":0.01},
{"t":6,"R":-0.04,"B":-0.015,"G":0,"GE":0.015,"GR":0.055,"GB":0.082,"GBR":0.1,"GER":0.13,"GBER":0.03},
{"t":7,"R":-0.05,"B":-0.025,"G":-0.01,"GE":0.005,"GR":0.045,"GB":0.065,"GBR":0.08,"GER":0.1,"GBER":0.02},
{"t":8,"R":-0.03,"B":-0.005,"G":0.01,"GE":0.025,"GR":0.065,"GB":0.095,"GBR":0.115,"GER":0.15,"GBER":0.04},
{"t":9,"R":-0.07,"B":-0.035,"G":-0.017,"GE":0.005,"GR":0.045,"GB":0.065,"GBR":0.08,"GER":0.1,"GBER":0.02},
{"t":10,"R":-0.04,"B":-0.015,"G":0,"GE":0.015,"GR":0.055,"GB":0.078,"GBR":0.095,"GER":0.12,"GBER":0.03},
{"t":11,"R":-0.05,"B":-0.025,"G":-0.01,"GE":0.005,"GR":0.045,"GB":0.065,"GBR":0.08,"GER":0.1,"GBER":0.02},
{"t":12,"R":-0.04,"B":-0.015,"G":0,"GE":0.015,"GR":0.055,"GB":0.082,"GBR":0.1,"GER":0.13,"GBER":0.03},
{"t":13,"R":-0.08,"B":-0.045,"G":-0.027,"GE":-0.005,"GR":0.035,"GB":0.055,"GBR":0.07,"GER":0.09,"GBER":0.01},
{"t":14,"R":-0.04,"B":-0.015,"G":0,"GE":0.015,"GR":0.055,"GB":0.078,"GBR":0.095,"GER":0.12,"GBER":0.03},
{"t":15,"R":-0.05,"B":-0.025,"G":-0.01,"GE":0.005,"GR":0.045,"GB":0.065,"GBR":0.08,"GER":0.1,"GBER":0.02},
{"t":16,"R":-0.05,"B":-0.025,"G":-0.01,"GE":0.005,"GR":0.045,"GB":0.072,"GBR":0.09,"GER":0.12,"GBER":0.02},
{"t":17,"R":-0.08,"B":-0.045,"G":-0.027,"GE":-0.005,"GR":0.035,"GB":0.055,"GBR":0.07,"GER":0.09,"GBER":0.01},
{"t":18,"R":-0.04,"B":-0.015,"G":0,"GE":0.015,"GR":0.055,"GB":0.078,"GBR":0.095,"GER":0.12,"GBER":0.03},
{"t":19,"R":-0.03,"B":-0.005,"G":0.01,"GE":0.025,"GR":0.065,"GB":0.095,"GBR":0.115,"GER":0.15,"GBER":0.04},
{"t":20,"R":-0.05,"B":-0.025,"G":-0.01,"GE":0.005,"GR":0.045,"GB":0.065,"GBR":0.08,"GER":0.1,"GBER":0.02},
{"t":20.8,"R":-0.14,"B":-0.1,"G":-0.08,"GE":-0.055,"GR":-0.015,"GB":0.005,"GBR":0.02,"GER":0.04,"GBER":-0.04},
{"t":21.3,"R":-0.2,"B":-0.15,"G":-0.127,"GE":-0.095,"GR":-0.055,"GB":-0.035,"GBR":-0.02,"GER":0,"GBER":-0.08},
{"t":21.8,"R":-0.07,"B":-0.045,"G":-0.03,"GE":-0.015,"GR":0.025,"GB":0.055,"GBR":0.075,"GER":0.11,"GBER":0},
{"t":22.5,"R":-0.05,"B":-0.025,"G":-0.01,"GE":0.005,"GR":0.045,"GB":0.065,"GBR":0.08,"GER":0.1,"GBER":0.02},
{"t":23.5,"R":-0.04,"B":-0.015,"G":0,"GE":0.015,"GR":0.055,"GB":0.082,"GBR":0.1,"GER":0.13,"GBER":0.03},
{"t":24.5,"R":-0.05,"B":-0.025,"G":-0.01,"GE":0.005,"GR":0.045,"GB":0.065,"GBR":0.08,"GER":0.1,"GBER":0.02},
{"t":25.5,"R":-0.07,"B":-0.04,"G":-0.023,"GE":-0.005,"GR":0.035,"GB":0.055,"GBR":0.07,"GER":0.09,"GBER":0.01},
{"t":26.5,"R":-0.05,"B":-0.025,"G":-0.01,"GE":0.005,"GR":0.045,"GB":0.065,"GBR":0.08,"GER":0.1,"GBER":0.02},
{"t":27.5,"R":-0.06,"B":-0.035,"G":-0.02,"GE":-0.005,"GR":0.035,"GB":0.055,"GBR":0.07,"GER":0.09,"GBER":0.01},
{"t":28.5,"R":-0.055,"B":-0.03,"G":-0.015,"GE":0,"GR":0.04,"GB":0.06,"GBR":0.075,"GER":0.095,"GBER":0.015},
{"t":30,"R":-0.05,"B":-0.025,"G":-0.01,"GE":0.005,"GR":0.045,"GB":0.065,"GBR":0.08,"GER":0.1,"GBER":0.02},
{"t":31,"R":-0.055,"B":-0.03,"G":-0.015,"GE":0,"GR":0.04,"GB":0.06,"GBR":0.075,"GER":0.095,"GBER":0.015},
{"t":32,"R":-0.05,"B":-0.025,"G":-0.01,"GE":0.005,"GR":0.045,"GB":0.065,"GBR":0.08,"GER":0.1,"GBER":0.02},
{"t":33,"R":-0.06,"B":-0.035,"G":-0.02,"GE":-0.005,"GR":0.035,"GB":0.055,"GBR":0.07,"GER":0.09,"GBER":0.01},
{"t":34,"R":-0.05,"B":-0.025,"G":-0.01,"GE":0.005,"GR":0.045,"GB":0.065,"GBR":0.08,"GER":0.1,"GBER":0.02},
{"t":35,"R":-0.055,"B":-0.03,"G":-0.015,"GE":0,"GR":0.04,"GB":0.06,"GBR":0.075,"GER":0.095,"GBER":0.015},
{"t":36,"R":-0.05,"B":-0.025,"G":-0.01,"GE":0.005,"GR":0.045,"GB":0.068,"GBR":0.085,"GER":0.11,"GBER":0.02},
{"t":37,"R":-0.07,"B":-0.04,"G":-0.023,"GE":-0.005,"GR":0.035,"GB":0.055,"GBR":0.07,"GER":0.09,"GBER":0.01},
{"t":38,"R":-0.05,"B":-0.025,"G":-0.01,"GE":0.005,"GR":0.045,"GB":0.065,"GBR":0.08,"GER":0.1,"GBER":0.02},
{"t":39,"R":-0.09,"B":-0.055,"G":-0.037,"GE":-0.015,"GR":0.025,"GB":0.045,"GBR":0.06,"GER":0.08,"GBER":0},
{"t":40,"R":-0.05,"B":-0.025,"G":-0.01,"GE":0.005,"GR":0.045,"GB":0.072,"GBR":0.09,"GER":0.12,"GBER":0.02},
{"t":41,"R":-0.06,"B":-0.035,"G":-0.02,"GE":-0.005,"GR":0.035,"GB":0.055,"GBR":0.07,"GER":0.09,"GBER":0.01},
{"t":42,"R":-0.04,"B":-0.015,"G":0,"GE":0.015,"GR":0.055,"GB":0.085,"GBR":0.105,"GER":0.14,"GBER":0.03},
{"t":43,"R":-0.09,"B":-0.055,"G":-0.037,"GE":-0.015,"GR":0.025,"GB":0.045,"GBR":0.06,"GER":0.08,"GBER":0},
{"t":44,"R":-0.05,"B":-0.025,"G":-0.01,"GE":0.005,"GR":0.045,"GB":0.072,"GBR":0.09,"GER":0.12,"GBER":0.02},
{"t":45,"R":-0.1,"B":-0.065,"G":-0.047,"GE":-0.025,"GR":0.015,"GB":0.035,"GBR":0.05,"GER":0.07,"GBER":-0.01},
{"t":46,"R":-0.04,"B":-0.015,"G":0,"GE":0.015,"GR":0.055,"GB":0.088,"GBR":0.11,"GER":0.15,"GBER":0.03},
{"t":47,"R":-0.1,"B":-0.06,"G":-0.04,"GE":-0.015,"GR":0.025,"GB":0.045,"GBR":0.06,"GER":0.08,"GBER":0},
{"t":48,"R":-0.05,"B":-0.025,"G":-0.01,"GE":0.005,"GR":0.045,"GB":0.072,"GBR":0.09,"GER":0.12,"GBER":0.02},
{"t":49,"R":-0.07,"B":-0.045,"G":-0.03,"GE":-0.015,"GR":0.025,"GB":0.045,"GBR":0.06,"GER":0.08,"GBER":0},
{"t":50,"R":-0.04,"B":-0.015,"G":0,"GE":0.015,"GR":0.055,"GB":0.085,"GBR":0.105,"GER":0.14,"GBER":0.03},
{"t":51,"R":-0.12,"B":-0.075,"G":-0.053,"GE":-0.025,"GR":0.015,"GB":0.035,"GBR":0.05,"GER":0.07,"GBER":-0.01},
{"t":52,"R":-0.05,"B":-0.025,"G":-0.01,"GE":0.005,"GR":0.045,"GB":0.072,"GBR":0.09,"GER":0.12,"GBER":0.02},
{"t":53,"R":-0.11,"B":-0.07,"G":-0.05,"GE":-0.025,"GR":0.015,"GB":0.035,"GBR":0.05,"GER":0.07,"GBER":-0.01},
{"t":54,"R":-0.05,"B":-0.025,"G":-0.01,"GE":0.005,"GR":0.045,"GB":0.075,"GBR":0.095,"GER":0.13,"GBER":0.02},
{"t":55,"R":-0.09,"B":-0.055,"G":-0.037,"GE":-0.015,"GR":0.025,"GB":0.045,"GBR":0.06,"GER":0.08,"GBER":0},
{"t":56,"R":-0.04,"B":-0.015,"G":0,"GE":0.015,"GR":0.055,"GB":0.085,"GBR":0.105,"GER":0.14,"GBER":0.03},
{"t":57,"R":-0.11,"B":-0.07,"G":-0.05,"GE":-0.025,"GR":0.015,"GB":0.035,"GBR":0.05,"GER":0.07,"GBER":-0.01},
{"t":58,"R":-0.05,"B":-0.025,"G":-0.01,"GE":0.005,"GR":0.045,"GB":0.075,"GBR":0.095,"GER":0.13,"GBER":0.02},
{"t":59,"R":-0.09,"B":-0.055,"G":-0.037,"GE":-0.015,"GR":0.025,"GB":0.045,"GBR":0.06,"GER":0.08,"GBER":0},
{"t":60,"R":-0.04,"B":-0.015,"G":0,"GE":0.015,"GR":0.055,"GB":0.082,"GBR":0.1,"GER":0.13,"GBER":0.03},
{"t":61,"R":-0.1,"B":-0.06,"G":-0.04,"GE":-0.015,"GR":0.025,"GB":0.045,"GBR":0.06,"GER":0.08,"GBER":0},
{"t":62,"R":-0.05,"B":-0.025,"G":-0.01,"GE":0.005,"GR":0.045,"GB":0.082,"GBR":0.105,"GER":0.15,"GBER":0.02},
{"t":62.6,"R":-0.19,"B":-0.13,"G":-0.103,"GE":-0.065,"GR":-0.025,"GB":-0.005,"GBR":0.01,"GER":0.03,"GBER":-0.05},
{"t":63.5,"R":-0.06,"B":-0.035,"G":-0.02,"GE":-0.005,"GR":0.035,"GB":0.065,"GBR":0.085,"GER":0.12,"GBER":0.01},
{"t":64.5,"R":-0.12,"B":-0.08,"G":-0.06,"GE":-0.035,"GR":0.005,"GB":0.025,"GBR":0.04,"GER":0.06,"GBER":-0.02},
{"t":65.5,"R":-0.04,"B":-0.015,"G":0,"GE":0.015,"GR":0.055,"GB":0.092,"GBR":0.115,"GER":0.16,"GBER":0.03},
{"t":66.3,"R":-0.1,"B":-0.06,"G":-0.04,"GE":-0.015,"GR":0.025,"GB":0.045,"GBR":0.06,"GER":0.08,"GBER":0},
{"t":67,"R":-0.06,"B":-0.035,"G":-0.02,"GE":-0.005,"GR":0.035,"GB":0.055,"GBR":0.07,"GER":0.09,"GBER":0.01}
],
"p2":[
{"t":0,"R":-0.03,"B":-0.01,"G":0.01,"GE":0.03,"GR":0.075,"GB":0.105,"GBR":0.125,"GER":0.16,"GBER":0.05},
{"t":1,"R":-0.06,"B":-0.04,"G":-0.02,"GE":0,"GR":0.045,"GB":0.09,"GBR":0.11,"GER":0.16,"GBER":0.02},
{"t":2,"R":-0.05,"B":-0.03,"G":-0.01,"GE":0.01,"GR":0.055,"GB":0.08,"GBR":0.1,"GER":0.13,"GBER":0.03},
{"t":3,"R":-0.11,"B":-0.09,"G":-0.055,"GE":-0.035,"GR":0.025,"GB":0.06,"GBR":0.08,"GER":0.12,"GBER":0},
{"t":4,"R":-0.06,"B":-0.04,"G":-0.02,"GE":0,"GR":0.045,"GB":0.085,"GBR":0.105,"GER":0.15,"GBER":0.02},
{"t":5,"R":-0.14,"B":-0.12,"G":-0.08,"GE":-0.06,"GR":0.005,"GB":0.02,"GBR":0.04,"GER":0.06,"GBER":-0.02},
{"t":5.9,"R":-0.18,"B":-0.16,"G":-0.11,"GE":-0.09,"GR":-0.015,"GB":0.015,"GBR":0.035,"GER":0.07,"GBER":-0.04},
{"t":6.7,"R":-0.06,"B":-0.04,"G":-0.02,"GE":0,"GR":0.045,"GB":0.09,"GBR":0.11,"GER":0.16,"GBER":0.02},
{"t":7.5,"R":-0.14,"B":-0.12,"G":-0.075,"GE":-0.055,"GR":0.015,"GB":0.03,"GBR":0.05,"GER":0.07,"GBER":-0.01},
{"t":8.3,"R":-0.05,"B":-0.03,"G":-0.01,"GE":0.01,"GR":0.055,"GB":0.105,"GBR":0.125,"GER":0.18,"GBER":0.03},
{"t":9,"R":-0.16,"B":-0.14,"G":-0.09,"GE":-0.07,"GR":0.005,"GB":0.02,"GBR":0.04,"GER":0.06,"GBER":-0.02},
{"t":10,"R":-0.07,"B":-0.05,"G":-0.03,"GE":-0.01,"GR":0.035,"GB":0.075,"GBR":0.095,"GER":0.14,"GBER":0.01},
{"t":11,"R":-0.15,"B":-0.13,"G":-0.085,"GE":-0.065,"GR":0.005,"GB":0.02,"GBR":0.04,"GER":0.06,"GBER":-0.02},
{"t":12,"R":-0.06,"B":-0.04,"G":-0.02,"GE":0,"GR":0.045,"GB":0.09,"GBR":0.11,"GER":0.16,"GBER":0.02},
{"t":13,"R":-0.17,"B":-0.15,"G":-0.1,"GE":-0.08,"GR":-0.005,"GB":0.01,"GBR":0.03,"GER":0.05,"GBER":-0.03},
{"t":14,"R":-0.11,"B":-0.09,"G":-0.055,"GE":-0.035,"GR":0.025,"GB":0.065,"GBR":0.085,"GER":0.13,"GBER":0},
{"t":14.6,"R":-0.02,"B":0,"G":0.02,"GE":0.04,"GR":0.085,"GB":0.135,"GBR":0.155,"GER":0.21,"GBER":0.06},
{"t":15.3,"R":-0.18,"B":-0.16,"G":-0.11,"GE":-0.09,"GR":-0.015,"GB":0,"GBR":0.02,"GER":0.04,"GBER":-0.04},
{"t":16,"R":-0.06,"B":-0.04,"G":-0.02,"GE":0,"GR":0.045,"GB":0.085,"GBR":0.105,"GER":0.15,"GBER":0.02},
{"t":17,"R":-0.17,"B":-0.15,"G":-0.105,"GE":-0.085,"GR":-0.015,"GB":0,"GBR":0.02,"GER":0.04,"GBER":-0.04},
{"t":17.8,"R":-0.07,"B":-0.05,"G":-0.03,"GE":-0.01,"GR":0.035,"GB":0.08,"GBR":0.1,"GER":0.15,"GBER":0.01},
{"t":18.7,"R":-0.23,"B":-0.21,"G":-0.15,"GE":-0.13,"GR":-0.045,"GB":-0.03,"GBR":-0.01,"GER":0.01,"GBER":-0.07},
{"t":19.5,"R":-0.08,"B":-0.06,"G":-0.04,"GE":-0.02,"GR":0.025,"GB":0.065,"GBR":0.085,"GER":0.13,"GBER":0},
{"t":20.3,"R":-0.15,"B":-0.13,"G":-0.09,"GE":-0.07,"GR":-0.005,"GB":0.01,"GBR":0.03,"GER":0.05,"GBER":-0.03},
{"t":20.8,"R":0.1,"B":0.12,"G":0.14,"GE":0.16,"GR":0.205,"GB":0.27,"GBR":0.29,"GER":0.36,"GBER":0.18},
{"t":21.3,"R":-0.03,"B":-0.01,"G":0.01,"GE":0.03,"GR":0.075,"GB":0.115,"GBR":0.135,"GER":0.18,"GBER":0.05},
{"t":21.8,"R":0.09,"B":0.11,"G":0.13,"GE":0.15,"GR":0.195,"GB":0.23,"GBR":0.25,"GER":0.29,"GBER":0.17},
{"t":22.4,"R":-0.14,"B":-0.12,"G":-0.08,"GE":-0.06,"GR":0.005,"GB":0.04,"GBR":0.06,"GER":0.1,"GBER":-0.02},
{"t":23.2,"R":-0.07,"B":-0.05,"G":-0.03,"GE":-0.01,"GR":0.035,"GB":0.09,"GBR":0.11,"GER":0.17,"GBER":0.01},
{"t":24,"R":-0.15,"B":-0.13,"G":-0.085,"GE":-0.065,"GR":0.005,"GB":0.02,"GBR":0.04,"GER":0.06,"GBER":-0.02},
{"t":24.6,"R":-0.24,"B":-0.22,"G":-0.165,"GE":-0.145,"GR":-0.065,"GB":-0.05,"GBR":-0.03,"GER":-0.01,"GBER":-0.09},
{"t":25.3,"R":-0.08,"B":-0.06,"G":-0.04,"GE":-0.02,"GR":0.025,"GB":0.04,"GBR":0.06,"GER":0.08,"GBER":0},
{"t":26,"R":-0.1,"B":-0.08,"G":-0.055,"GE":-0.035,"GR":0.015,"GB":0.03,"GBR":0.05,"GER":0.07,"GBER":-0.01},
{"t":27,"R":-0.08,"B":-0.06,"G":-0.04,"GE":-0.02,"GR":0.025,"GB":0.045,"GBR":0.065,"GER":0.09,"GBER":0},
{"t":28,"R":-0.1,"B":-0.08,"G":-0.055,"GE":-0.035,"GR":0.015,"GB":0.03,"GBR":0.05,"GER":0.07,"GBER":-0.01},
{"t":29,"R":-0.08,"B":-0.06,"G":-0.04,"GE":-0.02,"GR":0.025,"GB":0.04,"GBR":0.06,"GER":0.08,"GBER":0},
{"t":30,"R":-0.11,"B":-0.09,"G":-0.06,"GE":-0.04,"GR":0.015,"GB":0.03,"GBR":0.05,"GER":0.07,"GBER":-0.01},
{"t":31,"R":-0.08,"B":-0.06,"G":-0.04,"GE":-0.02,"GR":0.025,"GB":0.05,"GBR":0.07,"GER":0.1,"GBER":0},
{"t":32,"R":-0.15,"B":-0.13,"G":-0.085,"GE":-0.065,"GR":0.005,"GB":0.02,"GBR":0.04,"GER":0.06,"GBER":-0.02},
{"t":33,"R":-0.08,"B":-0.06,"G":-0.04,"GE":-0.02,"GR":0.025,"GB":0.055,"GBR":0.075,"GER":0.11,"GBER":0},
{"t":34,"R":-0.11,"B":-0.09,"G":-0.06,"GE":-0.04,"GR":0.015,"GB":0.03,"GBR":0.05,"GER":0.07,"GBER":-0.01},
{"t":35,"R":-0.07,"B":-0.05,"G":-0.03,"GE":-0.01,"GR":0.035,"GB":0.07,"GBR":0.09,"GER":0.13,"GBER":0.01},
{"t":36,"R":-0.14,"B":-0.12,"G":-0.08,"GE":-0.06,"GR":0.005,"GB":0.02,"GBR":0.04,"GER":0.06,"GBER":-0.02},
{"t":37,"R":-0.08,"B":-0.06,"G":-0.04,"GE":-0.02,"GR":0.025,"GB":0.05,"GBR":0.07,"GER":0.1,"GBER":0},
{"t":38,"R":-0.13,"B":-0.11,"G":-0.075,"GE":-0.055,"GR":0.005,"GB":0.02,"GBR":0.04,"GER":0.06,"GBER":-0.02},
{"t":39,"R":-0.07,"B":-0.05,"G":-0.03,"GE":-0.01,"GR":0.035,"GB":0.065,"GBR":0.085,"GER":0.12,"GBER":0.01},
{"t":40,"R":-0.16,"B":-0.14,"G":-0.095,"GE":-0.075,"GR":-0.005,"GB":0.01,"GBR":0.03,"GER":0.05,"GBER":-0.03},
{"t":40.8,"R":-0.04,"B":-0.02,"G":0,"GE":0.02,"GR":0.065,"GB":0.115,"GBR":0.135,"GER":0.19,"GBER":0.04},
{"t":41.5,"R":-0.15,"B":-0.13,"G":-0.085,"GE":-0.065,"GR":0.005,"GB":0.02,"GBR":0.04,"GER":0.06,"GBER":-0.02},
{"t":42.3,"R":-0.03,"B":-0.01,"G":0.01,"GE":0.03,"GR":0.075,"GB":0.12,"GBR":0.14,"GER":0.19,"GBER":0.05},
{"t":43,"R":-0.23,"B":-0.21,"G":-0.15,"GE":-0.13,"GR":-0.045,"GB":-0.03,"GBR":-0.01,"GER":0.01,"GBER":-0.07},
{"t":43.8,"R":-0.05,"B":-0.03,"G":-0.01,"GE":0.01,"GR":0.055,"GB":0.105,"GBR":0.125,"GER":0.18,"GBER":0.03},
{"t":44.5,"R":-0.18,"B":-0.16,"G":-0.11,"GE":-0.09,"GR":-0.015,"GB":0,"GBR":0.02,"GER":0.04,"GBER":-0.04},
{"t":45.3,"R":-0.02,"B":0,"G":0.02,"GE":0.04,"GR":0.085,"GB":0.145,"GBR":0.165,"GER":0.23,"GBER":0.06},
{"t":46,"R":-0.24,"B":-0.22,"G":-0.16,"GE":-0.14,"GR":-0.055,"GB":-0.04,"GBR":-0.02,"GER":0,"GBER":-0.08},
{"t":46.8,"R":-0.04,"B":-0.02,"G":0,"GE":0.02,"GR":0.065,"GB":0.115,"GBR":0.135,"GER":0.19,"GBER":0.04},
{"t":47.5,"R":-0.17,"B":-0.15,"G":-0.1,"GE":-0.08,"GR":-0.005,"GB":0.01,"GBR":0.03,"GER":0.05,"GBER":-0.03},
{"t":48.3,"R":-0.03,"B":-0.01,"G":0.01,"GE":0.03,"GR":0.075,"GB":0.125,"GBR":0.145,"GER":0.2,"GBER":0.05},
{"t":49,"R":-0.22,"B":-0.2,"G":-0.14,"GE":-0.12,"GR":-0.035,"GB":-0.02,"GBR":0,"GER":0.02,"GBER":-0.06},
{"t":49.8,"R":-0.01,"B":0.01,"G":0.03,"GE":0.05,"GR":0.095,"GB":0.15,"GBR":0.17,"GER":0.23,"GBER":0.07},
{"t":50.5,"R":-0.16,"B":-0.14,"G":-0.095,"GE":-0.075,"GR":-0.005,"GB":0.01,"GBR":0.03,"GER":0.05,"GBER":-0.03},
{"t":51.3,"R":-0.04,"B":-0.02,"G":0,"GE":0.02,"GR":0.065,"GB":0.11,"GBR":0.13,"GER":0.18,"GBER":0.04},
{"t":52,"R":-0.22,"B":-0.2,"G":-0.145,"GE":-0.125,"GR":-0.045,"GB":-0.03,"GBR":-0.01,"GER":0.01,"GBER":-0.07},
{"t":52.8,"R":-0.03,"B":-0.01,"G":0.01,"GE":0.03,"GR":0.075,"GB":0.13,"GBR":0.15,"GER":0.21,"GBER":0.05},
{"t":53.5,"R":-0.18,"B":-0.16,"G":-0.11,"GE":-0.09,"GR":-0.015,"GB":0,"GBR":0.02,"GER":0.04,"GBER":-0.04},
{"t":54.3,"R":-0.02,"B":0,"G":0.02,"GE":0.04,"GR":0.085,"GB":0.135,"GBR":0.155,"GER":0.21,"GBER":0.06},
{"t":55,"R":-0.24,"B":-0.22,"G":-0.16,"GE":-0.14,"GR":-0.055,"GB":-0.04,"GBR":-0.02,"GER":0,"GBER":-0.08},
{"t":55.8,"R":-0.04,"B":-0.02,"G":0,"GE":0.02,"GR":0.065,"GB":0.12,"GBR":0.14,"GER":0.2,"GBER":0.04},
{"t":56.5,"R":-0.17,"B":-0.15,"G":-0.1,"GE":-0.08,"GR":-0.005,"GB":0.01,"GBR":0.03,"GER":0.05,"GBER":-0.03},
{"t":57.3,"R":-0.03,"B":-0.01,"G":0.01,"GE":0.03,"GR":0.075,"GB":0.135,"GBR":0.155,"GER":0.22,"GBER":0.05},
{"t":58,"R":-0.22,"B":-0.2,"G":-0.14,"GE":-0.12,"GR":-0.035,"GB":-0.02,"GBR":0,"GER":0.02,"GBER":-0.06},
{"t":58.8,"R":-0.04,"B":-0.02,"G":0,"GE":0.02,"GR":0.065,"GB":0.11,"GBR":0.13,"GER":0.18,"GBER":0.04},
{"t":59.5,"R":-0.18,"B":-0.16,"G":-0.11,"GE":-0.09,"GR":-0.015,"GB":0,"GBR":0.02,"GER":0.04,"GBER":-0.04},
{"t":60.3,"R":-0.02,"B":0,"G":0.02,"GE":0.04,"GR":0.085,"GB":0.135,"GBR":0.155,"GER":0.21,"GBER":0.06},
{"t":61,"R":-0.2,"B":-0.18,"G":-0.125,"GE":-0.105,"GR":-0.025,"GB":-0.01,"GBR":0.01,"GER":0.03,"GBER":-0.05},
{"t":61.7,"R":0.08,"B":0.1,"G":0.12,"GE":0.14,"GR":0.185,"GB":0.23,"GBR":0.25,"GER":0.3,"GBER":0.16},
{"t":62.4,"R":-0.17,"B":-0.15,"G":-0.1,"GE":-0.08,"GR":-0.005,"GB":0.01,"GBR":0.03,"GER":0.05,"GBER":-0.03},
{"t":63.1,"R":-0.05,"B":-0.03,"G":-0.01,"GE":0.01,"GR":0.055,"GB":0.105,"GBR":0.125,"GER":0.18,"GBER":0.03},
{"t":63.8,"R":-0.23,"B":-0.21,"G":-0.15,"GE":-0.13,"GR":-0.045,"GB":-0.03,"GBR":-0.01,"GER":0.01,"GBER":-0.07},
{"t":64.5,"R":-0.03,"B":-0.01,"G":0.01,"GE":0.03,"GR":0.075,"GB":0.135,"GBR":0.155,"GER":0.22,"GBER":0.05},
{"t":65.2,"R":-0.23,"B":-0.21,"G":-0.155,"GE":-0.135,"GR":-0.055,"GB":-0.04,"GBR":-0.02,"GER":0,"GBER":-0.08},
{"t":65.8,"R":-0.04,"B":-0.02,"G":0,"GE":0.02,"GR":0.065,"GB":0.11,"GBR":0.13,"GER":0.18,"GBER":0.04},
{"t":66.4,"R":-0.13,"B":-0.11,"G":-0.075,"GE":-0.055,"GR":0.005,"GB":0.02,"GBR":0.04,"GER":0.06,"GBER":-0.02},
{"t":67,"R":-0.08,"B":-0.06,"G":-0.04,"GE":-0.02,"GR":0.025,"GB":0.04,"GBR":0.06,"GER":0.08,"GBER":0}
],
"h2":[
{"t":0,"R":0.11,"B":0.135,"G":0.165,"GE":0.185,"GR":0.255,"GB":0.275,"GBR":0.29,"GER":0.32,"GBER":0.22},
{"t":0.4,"R":-0.66,"B":-0.62,"G":-0.58,"GE":-0.55,"GR":-0.45,"GB":-0.42,"GBR":-0.4,"GER":-0.36,"GBER":-0.5},
{"t":0.8,"R":0.12,"B":0.16,"G":0.2,"GE":0.23,"GR":0.33,"GB":0.36,"GBR":0.38,"GER":0.42,"GBER":0.28},
{"t":1.5,"R":0.19,"B":0.23,"G":0.27,"GE":0.3,"GR":0.4,"GB":0.43,"GBR":0.45,"GER":0.49,"GBER":0.35},
{"t":1.8,"R":0.49,"B":0.53,"G":0.57,"GE":0.6,"GR":0.7,"GB":0.73,"GBR":0.75,"GER":0.9,"GBER":0.65},
{"t":2.1,"R":0.16,"B":0.2,"G":0.24,"GE":0.27,"GR":0.37,"GB":0.4,"GBR":0.42,"GER":0.46,"GBER":0.32},
{"t":3.2,"R":0.22,"B":0.26,"G":0.3,"GE":0.33,"GR":0.43,"GB":0.46,"GBR":0.48,"GER":0.52,"GBER":0.38},
{"t":3.5,"R":0.12,"B":0.16,"G":0.2,"GE":0.23,"GR":0.33,"GB":0.36,"GBR":0.38,"GER":0.42,"GBER":0.28},
{"t":4.5,"R":0.26,"B":0.3,"G":0.34,"GE":0.37,"GR":0.47,"GB":0.5,"GBR":0.52,"GER":0.56,"GBER":0.42},
{"t":4.7,"R":0.14,"B":0.18,"G":0.22,"GE":0.25,"GR":0.35,"GB":0.38,"GBR":0.4,"GER":0.44,"GBER":0.3},
{"t":6,"R":0.12,"B":0.16,"G":0.2,"GE":0.23,"GR":0.33,"GB":0.36,"GBR":0.38,"GER":0.42,"GBER":0.28},
{"t":7,"R":0.06,"B":0.1,"G":0.14,"GE":0.17,"GR":0.27,"GB":0.3,"GBR":0.32,"GER":0.36,"GBER":0.22},
{"t":7.3,"R":-0.34,"B":-0.3,"G":-0.26,"GE":-0.23,"GR":-0.13,"GB":-0.1,"GBR":-0.08,"GER":-0.04,"GBER":-0.18},
{"t":7.7,"R":-0.16,"B":-0.12,"G":-0.08,"GE":-0.05,"GR":0.05,"GB":0.08,"GBR":0.1,"GER":0.14,"GBER":0},
{"t":9.7,"R":0.14,"B":0.18,"G":0.22,"GE":0.25,"GR":0.35,"GB":0.38,"GBR":0.4,"GER":0.48,"GBER":0.3},
{"t":9.9,"R":-0.04,"B":0,"G":0.04,"GE":0.07,"GR":0.17,"GB":0.2,"GBR":0.22,"GER":0.26,"GBER":0.12},
{"t":11.5,"R":-0.01,"B":0.03,"G":0.07,"GE":0.1,"GR":0.2,"GB":0.23,"GBR":0.25,"GER":0.29,"GBER":0.15},
{"t":12.8,"R":-0.02,"B":0.02,"G":0.06,"GE":0.09,"GR":0.19,"GB":0.22,"GBR":0.24,"GER":0.28,"GBER":0.14},
{"t":13,"R":0.09,"B":0.13,"G":0.17,"GE":0.2,"GR":0.3,"GB":0.33,"GBR":0.35,"GER":0.45,"GBER":0.25},
{"t":13.3,"R":-0.18,"B":-0.14,"G":-0.1,"GE":-0.07,"GR":0.03,"GB":0.06,"GBR":0.08,"GER":0.12,"GBER":-0.02},
{"t":14.5,"R":-0.13,"B":-0.09,"G":-0.05,"GE":-0.02,"GR":0.08,"GB":0.11,"GBR":0.13,"GER":0.17,"GBER":0.03},
{"t":15.3,"R":-0.04,"B":0,"G":0.04,"GE":0.07,"GR":0.17,"GB":0.2,"GBR":0.22,"GER":0.26,"GBER":0.12},
{"t":15.6,"R":-0.19,"B":-0.15,"G":-0.11,"GE":-0.08,"GR":0.02,"GB":0.05,"GBR":0.07,"GER":0.11,"GBER":-0.03},
{"t":17.5,"R":-0.23,"B":-0.19,"G":-0.15,"GE":-0.12,"GR":-0.02,"GB":0.01,"GBR":0.03,"GER":0.07,"GBER":-0.07},
{"t":18.5,"R":-0.11,"B":-0.07,"G":-0.03,"GE":0,"GR":0.1,"GB":0.13,"GBR":0.15,"GER":0.19,"GBER":0.05},
{"t":19,"R":-0.26,"B":-0.22,"G":-0.18,"GE":-0.15,"GR":-0.05,"GB":-0.02,"GBR":0,"GER":0.04,"GBER":-0.1},
{"t":20.1,"R":-0.24,"B":-0.2,"G":-0.16,"GE":-0.13,"GR":-0.03,"GB":0,"GBR":0.02,"GER":0.06,"GBER":-0.08},
{"t":20.4,"R":0.04,"B":0.08,"G":0.12,"GE":0.15,"GR":0.25,"GB":0.28,"GBR":0.3,"GER":0.4,"GBER":0.2},
{"t":20.8,"R":-0.24,"B":-0.2,"G":-0.16,"GE":-0.13,"GR":-0.03,"GB":0,"GBR":0.02,"GER":0.06,"GBER":-0.08},
{"t":21.3,"R":-0.34,"B":-0.3,"G":-0.26,"GE":-0.23,"GR":-0.13,"GB":-0.1,"GBR":-0.08,"GER":-0.04,"GBER":-0.18},
{"t":21.8,"R":0.26,"B":0.3,"G":0.34,"GE":0.37,"GR":0.47,"GB":0.5,"GBR":0.52,"GER":0.56,"GBER":0.42},
{"t":23,"R":0.19,"B":0.23,"G":0.27,"GE":0.3,"GR":0.4,"GB":0.43,"GBR":0.45,"GER":0.49,"GBER":0.35},
{"t":24.2,"R":0.14,"B":0.18,"G":0.22,"GE":0.25,"GR":0.35,"GB":0.38,"GBR":0.4,"GER":0.44,"GBER":0.3},
{"t":24.4,"R":-0.01,"B":0.03,"G":0.07,"GE":0.1,"GR":0.2,"GB":0.23,"GBR":0.25,"GER":0.29,"GBER":0.15},
{"t":24.6,"R":0.14,"B":0.18,"G":0.22,"GE":0.25,"GR":0.35,"GB":0.38,"GBR":0.4,"GER":0.44,"GBER":0.3},
{"t":25.5,"R":0.11,"B":0.15,"G":0.19,"GE":0.22,"GR":0.32,"GB":0.35,"GBR":0.37,"GER":0.41,"GBER":0.27},
{"t":25.8,"R":-0.21,"B":-0.17,"G":-0.13,"GE":-0.1,"GR":0,"GB":0.03,"GBR":0.05,"GER":0.09,"GBER":-0.05},
{"t":28,"R":-0.2,"B":-0.16,"G":-0.12,"GE":-0.09,"GR":0.01,"GB":0.04,"GBR":0.06,"GER":0.1,"GBER":-0.04},
{"t":31,"R":-0.19,"B":-0.15,"G":-0.11,"GE":-0.08,"GR":0.02,"GB":0.05,"GBR":0.07,"GER":0.11,"GBER":-0.03},
{"t":33,"R":-0.18,"B":-0.14,"G":-0.1,"GE":-0.07,"GR":0.03,"GB":0.06,"GBR":0.08,"GER":0.12,"GBER":-0.02},
{"t":33.3,"R":-0.13,"B":-0.09,"G":-0.05,"GE":-0.02,"GR":0.08,"GB":0.11,"GBR":0.13,"GER":0.17,"GBER":0.03},
{"t":36,"R":-0.16,"B":-0.12,"G":-0.08,"GE":-0.05,"GR":0.05,"GB":0.08,"GBR":0.1,"GER":0.14,"GBER":0},
{"t":38,"R":-0.14,"B":-0.1,"G":-0.06,"GE":-0.03,"GR":0.07,"GB":0.1,"GBR":0.12,"GER":0.16,"GBER":0.02},
{"t":40,"R":-0.11,"B":-0.07,"G":-0.03,"GE":0,"GR":0.1,"GB":0.13,"GBR":0.15,"GER":0.19,"GBER":0.05},
{"t":40.3,"R":-0.19,"B":-0.15,"G":-0.11,"GE":-0.08,"GR":0.02,"GB":0.05,"GBR":0.07,"GER":0.11,"GBER":-0.03},
{"t":43,"R":-0.14,"B":-0.1,"G":-0.06,"GE":-0.03,"GR":0.07,"GB":0.1,"GBR":0.12,"GER":0.16,"GBER":0.02},
{"t":45,"R":-0.11,"B":-0.07,"G":-0.03,"GE":0,"GR":0.1,"GB":0.13,"GBR":0.15,"GER":0.19,"GBER":0.05},
{"t":45.3,"R":-0.18,"B":-0.14,"G":-0.1,"GE":-0.07,"GR":0.03,"GB":0.06,"GBR":0.08,"GER":0.12,"GBER":-0.02},
{"t":48,"R":-0.13,"B":-0.09,"G":-0.05,"GE":-0.02,"GR":0.08,"GB":0.11,"GBR":0.13,"GER":0.17,"GBER":0.03},
{"t":50,"R":-0.1,"B":-0.06,"G":-0.02,"GE":0.01,"GR":0.11,"GB":0.14,"GBR":0.16,"GER":0.2,"GBER":0.06},
{"t":50.3,"R":-0.18,"B":-0.14,"G":-0.1,"GE":-0.07,"GR":0.03,"GB":0.06,"GBR":0.08,"GER":0.12,"GBER":-0.02},
{"t":52,"R":-0.14,"B":-0.1,"G":-0.06,"GE":-0.03,"GR":0.07,"GB":0.1,"GBR":0.12,"GER":0.16,"GBER":0.02},
{"t":54,"R":-0.1,"B":-0.06,"G":-0.02,"GE":0.01,"GR":0.11,"GB":0.14,"GBR":0.16,"GER":0.2,"GBER":0.06},
{"t":55.5,"R":-0.13,"B":-0.09,"G":-0.05,"GE":-0.02,"GR":0.08,"GB":0.11,"GBR":0.13,"GER":0.17,"GBER":0.03},
{"t":57.3,"R":-0.11,"B":-0.07,"G":-0.03,"GE":0,"GR":0.1,"GB":0.13,"GBR":0.15,"GER":0.19,"GBER":0.05},
{"t":57.6,"R":-0.31,"B":-0.27,"G":-0.23,"GE":-0.2,"GR":-0.1,"GB":-0.07,"GBR":-0.05,"GER":-0.01,"GBER":-0.15},
{"t":59,"R":-0.26,"B":-0.22,"G":-0.18,"GE":-0.15,"GR":-0.05,"GB":-0.02,"GBR":0,"GER":0.04,"GBER":-0.1},
{"t":59.5,"R":-0.14,"B":-0.1,"G":-0.06,"GE":-0.03,"GR":0.07,"GB":0.1,"GBR":0.12,"GER":0.16,"GBER":0.02},
{"t":60,"R":-0.24,"B":-0.2,"G":-0.16,"GE":-0.13,"GR":-0.03,"GB":0,"GBR":0.02,"GER":0.06,"GBER":-0.08},
{"t":62,"R":-0.21,"B":-0.17,"G":-0.13,"GE":-0.1,"GR":0,"GB":0.03,"GBR":0.05,"GER":0.09,"GBER":-0.05},
{"t":63.5,"R":-0.23,"B":-0.19,"G":-0.15,"GE":-0.12,"GR":-0.02,"GB":0.01,"GBR":0.03,"GER":0.07,"GBER":-0.07},
{"t":64,"R":-0.38,"B":-0.34,"G":-0.3,"GE":-0.27,"GR":-0.17,"GB":-0.14,"GBR":-0.12,"GER":-0.08,"GBER":-0.22},
{"t":64.3,"R":-0.08,"B":-0.04,"G":0,"GE":0.03,"GR":0.13,"GB":0.16,"GBR":0.18,"GER":0.22,"GBER":0.08},
{"t":65.5,"R":-0.01,"B":0.03,"G":0.07,"GE":0.1,"GR":0.2,"GB":0.23,"GBR":0.25,"GER":0.38,"GBER":0.15},
{"t":65.8,"R":-0.16,"B":-0.12,"G":-0.08,"GE":-0.05,"GR":0.05,"GB":0.08,"GBR":0.1,"GER":0.14,"GBER":0},
{"t":67,"R":-0.18,"B":-0.14,"G":-0.1,"GE":-0.07,"GR":0.03,"GB":0.06,"GBR":0.08,"GER":0.12,"GBER":-0.02}
]
},
"spacing":11,
"bounds":"full",
"vconcat":[
{"spacing":22,"bounds":"flush","vconcat":[
{"width":526,"height":92,"data":{"name":"r1"},"transform":[{"fold":["R","B","G","GE","GR","GB","GBR","GER","GBER"],"as":["s","v"]}],"mark":{"type":"line","clip":true,"strokeWidth":1.3},
"encoding":{"x":{"field":"t","type":"quantitative","scale":{"domain":[0,70],"nice":false,"zero":false},"axis":{"values":[0,10,20,30,40,50,60,70],"labels":false,"title":null}},
"y":{"field":"v","type":"quantitative","scale":{"domain":[-0.2,0.2],"nice":false},"axis":{"values":[-0.2,-0.1,0,0.1,0.2],"labelExpr":"datum.value < -0.001 ? '-' + format(-datum.value, '.1f') : format(abs(datum.value), '.1f')","title":"Roll [°]"}},
"color":{"field":"s","type":"nominal","scale":{"domain":["R","B","G","GE","GR","GB","GBR","GER","GBER"],"range":["#ff0000","#1fbfcf","#1f78c0","#a0461e","#0000ff","#00ffff","#46705c","#ff00ff","#00ff00"]},"legend":{"orient":"none","legendX":-77,"legendY":731,"direction":"horizontal","columns":9,"title":null}}}},
{"width":526,"height":94,"data":{"name":"p1"},"transform":[{"fold":["R","B","G","GE","GR","GB","GBR","GER","GBER"],"as":["s","v"]}],"mark":{"type":"line","clip":true,"strokeWidth":1.3},
"encoding":{"x":{"field":"t","type":"quantitative","scale":{"domain":[0,70],"nice":false,"zero":false},"axis":{"values":[0,10,20,30,40,50,60,70],"labels":false,"title":null}},
"y":{"field":"v","type":"quantitative","scale":{"domain":[-0.2,0.2],"nice":false},"axis":{"values":[-0.2,-0.1,0,0.1,0.2],"labelExpr":"datum.value < -0.001 ? '-' + format(-datum.value, '.1f') : format(abs(datum.value), '.1f')","title":"Pitch [°]"}},
"color":{"field":"s","type":"nominal","scale":{"domain":["R","B","G","GE","GR","GB","GBR","GER","GBER"],"range":["#ff0000","#1fbfcf","#1f78c0","#a0461e","#0000ff","#00ffff","#46705c","#ff00ff","#00ff00"]},"legend":{"orient":"none","legendX":-77,"legendY":731,"direction":"horizontal","columns":9,"title":null}}}},
{"width":526,"height":92,"data":{"name":"h1"},"transform":[{"fold":["R","B","G","GE","GR","GB","GBR","GER","GBER"],"as":["s","v"]}],"mark":{"type":"line","clip":true,"strokeWidth":1.3},
"encoding":{"x":{"field":"t","type":"quantitative","scale":{"domain":[0,70],"nice":false,"zero":false},"axis":{"values":[0,10,20,30,40,50,60,70],"title":"Observing Time [minute]"}},
"y":{"field":"v","type":"quantitative","scale":{"domain":[-1,1],"nice":false},"axis":{"values":[-1,-0.5,0,0.5,1],"labelExpr":"datum.value < -0.001 ? '-' + format(-datum.value, '.1f') : format(abs(datum.value), '.1f')","title":"Heading [°]"}},
"color":{"field":"s","type":"nominal","scale":{"domain":["R","B","G","GE","GR","GB","GBR","GER","GBER"],"range":["#ff0000","#1fbfcf","#1f78c0","#a0461e","#0000ff","#00ffff","#46705c","#ff00ff","#00ff00"]},"legend":{"orient":"none","legendX":-77,"legendY":731,"direction":"horizontal","columns":9,"title":null}}}}
]},
{"spacing":20,"bounds":"flush","vconcat":[
{"width":526,"height":78,"data":{"name":"r2"},"transform":[{"fold":["R","B","G","GE","GR","GB","GBR","GER","GBER"],"as":["s","v"]}],"mark":{"type":"line","clip":true,"strokeWidth":1.3},
"encoding":{"x":{"field":"t","type":"quantitative","scale":{"domain":[0,70],"nice":false,"zero":false},"axis":{"values":[0,10,20,30,40,50,60,70],"labels":false,"title":null}},
"y":{"field":"v","type":"quantitative","scale":{"domain":[-0.2,0.2],"nice":false},"axis":{"values":[-0.2,-0.1,0,0.1,0.2],"labelExpr":"datum.value < -0.001 ? '-' + format(-datum.value, '.1f') : format(abs(datum.value), '.1f')","title":"Roll [°]"}},
"color":{"field":"s","type":"nominal","scale":{"domain":["R","B","G","GE","GR","GB","GBR","GER","GBER"],"range":["#ff0000","#1fbfcf","#1f78c0","#a0461e","#0000ff","#00ffff","#46705c","#ff00ff","#00ff00"]},"legend":{"orient":"none","legendX":-77,"legendY":731,"direction":"horizontal","columns":9,"title":null}}}},
{"width":526,"height":79,"data":{"name":"p2"},"transform":[{"fold":["R","B","G","GE","GR","GB","GBR","GER","GBER"],"as":["s","v"]}],"mark":{"type":"line","clip":true,"strokeWidth":1.3},
"encoding":{"x":{"field":"t","type":"quantitative","scale":{"domain":[0,70],"nice":false,"zero":false},"axis":{"values":[0,10,20,30,40,50,60,70],"labels":false,"title":null}},
"y":{"field":"v","type":"quantitative","scale":{"domain":[-0.2,0.2],"nice":false},"axis":{"values":[-0.2,-0.1,0,0.1,0.2],"labelExpr":"datum.value < -0.001 ? '-' + format(-datum.value, '.1f') : format(abs(datum.value), '.1f')","title":"Pitch [°]"}},
"color":{"field":"s","type":"nominal","scale":{"domain":["R","B","G","GE","GR","GB","GBR","GER","GBER"],"range":["#ff0000","#1fbfcf","#1f78c0","#a0461e","#0000ff","#00ffff","#46705c","#ff00ff","#00ff00"]},"legend":{"orient":"none","legendX":-77,"legendY":731,"direction":"horizontal","columns":9,"title":null}}}},
{"width":526,"height":78,"data":{"name":"h2"},"transform":[{"fold":["R","B","G","GE","GR","GB","GBR","GER","GBER"],"as":["s","v"]}],"mark":{"type":"line","clip":true,"strokeWidth":1.3},
"encoding":{"x":{"field":"t","type":"quantitative","scale":{"domain":[0,70],"nice":false,"zero":false},"axis":{"values":[0,10,20,30,40,50,60,70],"title":"Observing Time [minute]"}},
"y":{"field":"v","type":"quantitative","scale":{"domain":[-1,1],"nice":false},"axis":{"values":[-1,-0.5,0,0.5,1],"labelExpr":"datum.value < -0.001 ? '-' + format(-datum.value, '.1f') : format(abs(datum.value), '.1f')","title":"Heading [°]"}},
"color":{"field":"s","type":"nominal","scale":{"domain":["R","B","G","GE","GR","GB","GBR","GER","GBER"],"range":["#ff0000","#1fbfcf","#1f78c0","#a0461e","#0000ff","#00ffff","#46705c","#ff00ff","#00ff00"]},"legend":{"orient":"none","legendX":-77,"legendY":731,"direction":"horizontal","columns":9,"title":null}}}}
]}
],
"resolve":{"scale":{"color":"shared"}}
}
